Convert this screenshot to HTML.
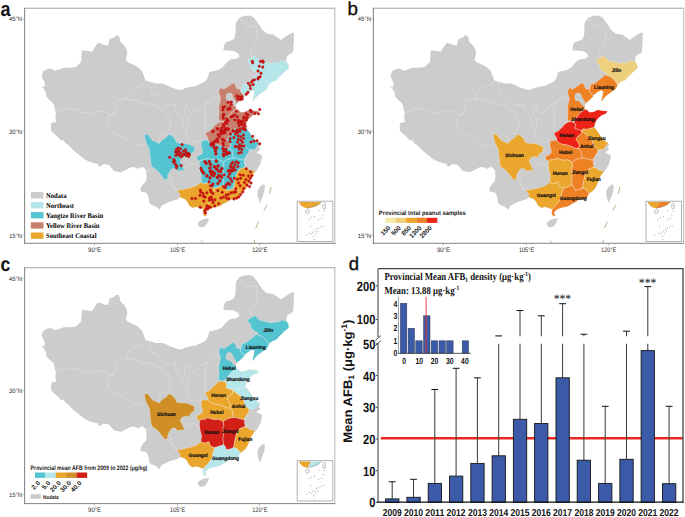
<!DOCTYPE html>
<html><head><meta charset="utf-8"><style>
html,body{margin:0;padding:0;background:#fff;font-family:"Liberation Sans",sans-serif;}
body{width:685px;height:517px;overflow:hidden;position:relative;}
svg{position:absolute;left:0;top:0;}
text{text-rendering:geometricPrecision;}
.ax{font-size:7px;fill:#4d4d4d;}
.pl{font-size:5.6px;font-weight:bold;fill:#111;}
.lg{font-family:"Liberation Serif",serif;font-weight:bold;font-size:7.6px;fill:#111;}
.lt{font-size:6.6px;fill:#222;}
.lk{font-size:6.2px;fill:#222;}
.lk2{font-size:6.2px;fill:#333;}
.pn{font-size:20px;font-weight:bold;fill:#111;}
.tk{font-size:11.2px;font-weight:bold;fill:#111;}
.yr{font-size:9.6px;font-weight:bold;fill:#111;}
.yl{font-size:12.4px;font-weight:bold;fill:#111;}
.it{font-family:"Liberation Serif",serif;font-weight:bold;font-size:8.4px;fill:#111;}
.hk{font-size:7.2px;font-weight:bold;fill:#111;}
.st{font-family:"Liberation Serif",serif;font-size:11px;fill:#222;}
.eb{stroke:#3a3a3a;stroke-width:1.0;}
.ec{stroke:#111;stroke-width:1.0;}
</style></head><body>
<svg width="685" height="517" viewBox="0 0 685 517">
<defs>
<path id="cn" d="M41.6 75.8 L43.1 71.4 L46.8 69.2 L51.1 68.5 L54.8 70.7 L59.9 69.2 L63.5 67.7 L69.4 67.7 L76.0 67.0 L78.9 64.1 L81.1 61.9 L81.8 51.7 L82.5 50.2 L87.6 51.0 L92.0 51.7 L94.2 48.0 L97.9 42.9 L100.8 43.6 L104.4 45.1 L108.1 45.5 L109.6 39.0 L114.0 37.5 L116.2 35.3 L119.1 36.1 L120.5 41.9 L124.9 46.3 L127.1 50.7 L127.1 55.0 L125.7 59.4 L127.8 62.3 L133.0 64.5 L137.3 66.7 L141.7 70.4 L143.2 74.0 L145.4 80.6 L150.5 82.0 L156.3 83.5 L162.2 83.5 L166.5 85.0 L170.9 87.2 L176.8 89.3 L181.1 90.0 L185.5 87.9 L191.4 86.4 L195.0 86.2 L202.7 82.8 L205.0 81.5 L207.6 78.0 L209.4 71.9 L213.8 71.0 L218.1 70.1 L222.5 67.5 L226.0 63.1 L230.4 59.6 L236.5 58.8 L239.6 56.6 L238.3 53.5 L233.9 50.9 L226.0 50.5 L223.4 50.2 L224.1 45.3 L225.7 42.2 L230.3 40.7 L234.1 39.1 L235.6 33.0 L235.6 25.3 L236.4 21.5 L239.5 17.7 L244.0 16.1 L249.4 15.4 L253.2 16.9 L256.3 20.7 L259.4 25.3 L262.4 29.9 L267.0 33.8 L273.2 34.5 L277.8 37.6 L280.8 39.9 L285.4 36.8 L290.0 33.8 L293.9 32.2 L293.9 40.7 L293.1 52.2 L289.3 54.5 L287.0 56.0 L286.2 60.6 L288.5 65.2 L288.5 68.2 L285.4 71.3 L281.6 74.4 L278.5 77.4 L276.2 80.5 L271.6 82.0 L268.8 84.7 L266.8 89.3 L262.9 91.9 L258.3 95.2 L255.0 98.5 L253.0 101.8 L252.4 100.4 L253.7 95.2 L254.4 91.2 L251.7 90.6 L249.1 91.9 L246.5 94.0 L244.3 96.7 L242.0 99.0 L239.6 101.3 L237.3 102.9 L236.2 104.4 L235.8 107.5 L236.5 109.1 L237.6 109.2 L240.9 112.3 L244.9 111.7 L248.8 109.7 L252.8 110.4 L258.7 111.0 L257.4 113.7 L252.8 115.6 L249.5 118.3 L247.5 120.9 L246.2 124.2 L245.5 127.5 L247.5 129.4 L250.0 132.9 L253.2 137.7 L256.5 141.0 L259.7 143.4 L260.0 144.6 L259.6 146.4 L258.3 148.1 L260.5 149.0 L259.2 150.3 L256.5 152.5 L258.3 153.8 L261.8 155.1 L262.2 157.8 L260.9 160.4 L260.9 163.0 L259.6 165.2 L258.3 167.4 L257.4 169.2 L255.6 171.8 L254.6 172.3 L252.2 175.8 L250.5 179.3 L248.7 184.0 L246.4 188.7 L244.1 191.0 L240.6 193.4 L239.4 195.1 L238.2 198.6 L234.7 199.2 L230.0 199.8 L226.0 202.8 L222.8 204.0 L221.0 205.8 L217.5 206.9 L214.0 207.5 L210.5 208.7 L207.6 210.1 L206.4 211.6 L205.3 212.8 L206.1 214.5 L206.7 215.7 L204.7 216.6 L203.2 214.5 L202.6 212.2 L203.5 209.3 L201.2 208.7 L197.7 207.5 L195.9 206.9 L193.0 208.1 L191.1 207.2 L188.7 204.9 L187.0 201.4 L184.6 199.1 L181.7 197.9 L180.0 197.3 L178.2 199.1 L174.7 200.2 L170.0 201.4 L165.4 203.7 L161.3 206.1 L159.5 210.1 L158.4 208.4 L154.9 206.1 L151.4 204.9 L149.0 202.6 L149.0 199.1 L147.9 195.5 L146.1 192.6 L142.0 192.0 L140.3 190.3 L140.9 187.4 L143.2 183.9 L146.1 180.9 L146.7 176.9 L146.1 170.4 L143.8 167.5 L141.4 166.9 L138.5 168.7 L133.8 166.9 L130.3 167.5 L125.7 169.9 L121.0 172.2 L114.0 171.0 L109.0 165.0 L104.0 164.0 L99.0 167.0 L98.0 164.0 L90.0 162.0 L84.0 159.0 L78.0 154.0 L74.2 151.1 L71.9 148.7 L68.4 145.2 L65.4 142.9 L63.1 140.0 L60.8 140.5 L57.9 137.0 L54.4 134.1 L51.4 131.2 L50.8 127.7 L51.4 123.0 L53.2 122.4 L56.1 121.9 L55.5 118.4 L55.5 114.9 L56.1 112.5 L54.9 110.2 L54.4 106.1 L53.2 103.2 L49.1 99.7 L46.2 96.2 L46.0 92.6 L43.8 88.9 L41.6 86.7 L44.6 86.7 L44.6 82.3 L43.1 79.4ZM209.0 218.6 L207.4 223.2 L204.2 226.8 L200.2 227.6 L197.7 224.4 L198.4 222.0 L201.2 220.2 L204.6 218.8ZM264.2 184.3 L265.0 186.5 L264.3 191.0 L262.6 196.5 L261.0 200.5 L260.2 203.2 L258.6 199.5 L257.5 195.0 L257.6 191.0 L259.3 187.5 L262.0 185.0Z"/>
<clipPath id="cnclip"><path d="M41.6 75.8 L43.1 71.4 L46.8 69.2 L51.1 68.5 L54.8 70.7 L59.9 69.2 L63.5 67.7 L69.4 67.7 L76.0 67.0 L78.9 64.1 L81.1 61.9 L81.8 51.7 L82.5 50.2 L87.6 51.0 L92.0 51.7 L94.2 48.0 L97.9 42.9 L100.8 43.6 L104.4 45.1 L108.1 45.5 L109.6 39.0 L114.0 37.5 L116.2 35.3 L119.1 36.1 L120.5 41.9 L124.9 46.3 L127.1 50.7 L127.1 55.0 L125.7 59.4 L127.8 62.3 L133.0 64.5 L137.3 66.7 L141.7 70.4 L143.2 74.0 L145.4 80.6 L150.5 82.0 L156.3 83.5 L162.2 83.5 L166.5 85.0 L170.9 87.2 L176.8 89.3 L181.1 90.0 L185.5 87.9 L191.4 86.4 L195.0 86.2 L202.7 82.8 L205.0 81.5 L207.6 78.0 L209.4 71.9 L213.8 71.0 L218.1 70.1 L222.5 67.5 L226.0 63.1 L230.4 59.6 L236.5 58.8 L239.6 56.6 L238.3 53.5 L233.9 50.9 L226.0 50.5 L223.4 50.2 L224.1 45.3 L225.7 42.2 L230.3 40.7 L234.1 39.1 L235.6 33.0 L235.6 25.3 L236.4 21.5 L239.5 17.7 L244.0 16.1 L249.4 15.4 L253.2 16.9 L256.3 20.7 L259.4 25.3 L262.4 29.9 L267.0 33.8 L273.2 34.5 L277.8 37.6 L280.8 39.9 L285.4 36.8 L290.0 33.8 L293.9 32.2 L293.9 40.7 L293.1 52.2 L289.3 54.5 L287.0 56.0 L286.2 60.6 L288.5 65.2 L288.5 68.2 L285.4 71.3 L281.6 74.4 L278.5 77.4 L276.2 80.5 L271.6 82.0 L268.8 84.7 L266.8 89.3 L262.9 91.9 L258.3 95.2 L255.0 98.5 L253.0 101.8 L252.4 100.4 L253.7 95.2 L254.4 91.2 L251.7 90.6 L249.1 91.9 L246.5 94.0 L244.3 96.7 L242.0 99.0 L239.6 101.3 L237.3 102.9 L236.2 104.4 L235.8 107.5 L236.5 109.1 L237.6 109.2 L240.9 112.3 L244.9 111.7 L248.8 109.7 L252.8 110.4 L258.7 111.0 L257.4 113.7 L252.8 115.6 L249.5 118.3 L247.5 120.9 L246.2 124.2 L245.5 127.5 L247.5 129.4 L250.0 132.9 L253.2 137.7 L256.5 141.0 L259.7 143.4 L260.0 144.6 L259.6 146.4 L258.3 148.1 L260.5 149.0 L259.2 150.3 L256.5 152.5 L258.3 153.8 L261.8 155.1 L262.2 157.8 L260.9 160.4 L260.9 163.0 L259.6 165.2 L258.3 167.4 L257.4 169.2 L255.6 171.8 L254.6 172.3 L252.2 175.8 L250.5 179.3 L248.7 184.0 L246.4 188.7 L244.1 191.0 L240.6 193.4 L239.4 195.1 L238.2 198.6 L234.7 199.2 L230.0 199.8 L226.0 202.8 L222.8 204.0 L221.0 205.8 L217.5 206.9 L214.0 207.5 L210.5 208.7 L207.6 210.1 L206.4 211.6 L205.3 212.8 L206.1 214.5 L206.7 215.7 L204.7 216.6 L203.2 214.5 L202.6 212.2 L203.5 209.3 L201.2 208.7 L197.7 207.5 L195.9 206.9 L193.0 208.1 L191.1 207.2 L188.7 204.9 L187.0 201.4 L184.6 199.1 L181.7 197.9 L180.0 197.3 L178.2 199.1 L174.7 200.2 L170.0 201.4 L165.4 203.7 L161.3 206.1 L159.5 210.1 L158.4 208.4 L154.9 206.1 L151.4 204.9 L149.0 202.6 L149.0 199.1 L147.9 195.5 L146.1 192.6 L142.0 192.0 L140.3 190.3 L140.9 187.4 L143.2 183.9 L146.1 180.9 L146.7 176.9 L146.1 170.4 L143.8 167.5 L141.4 166.9 L138.5 168.7 L133.8 166.9 L130.3 167.5 L125.7 169.9 L121.0 172.2 L114.0 171.0 L109.0 165.0 L104.0 164.0 L99.0 167.0 L98.0 164.0 L90.0 162.0 L84.0 159.0 L78.0 154.0 L74.2 151.1 L71.9 148.7 L68.4 145.2 L65.4 142.9 L63.1 140.0 L60.8 140.5 L57.9 137.0 L54.4 134.1 L51.4 131.2 L50.8 127.7 L51.4 123.0 L53.2 122.4 L56.1 121.9 L55.5 118.4 L55.5 114.9 L56.1 112.5 L54.9 110.2 L54.4 106.1 L53.2 103.2 L49.1 99.7 L46.2 96.2 L46.0 92.6 L43.8 88.9 L41.6 86.7 L44.6 86.7 L44.6 82.3 L43.1 79.4ZM209.0 218.6 L207.4 223.2 L204.2 226.8 L200.2 227.6 L197.7 224.4 L198.4 222.0 L201.2 220.2 L204.6 218.8ZM264.2 184.3 L265.0 186.5 L264.3 191.0 L262.6 196.5 L261.0 200.5 L260.2 203.2 L258.6 199.5 L257.5 195.0 L257.6 191.0 L259.3 187.5 L262.0 185.0Z"/></clipPath>
<path id="p_jilin" d="M247.8 60.5 L250.4 58.5 L254.8 56.0 L257.5 58.5 L259.4 60.4 L262.5 61.5 L265.5 62.0 L268.5 62.8 L271.6 63.4 L274.5 62.5 L277.8 62.8 L280.0 61.8 L282.4 60.6 L285.0 61.5 L287.0 62.1 L288.8 64.5 L290.0 68.0 L287.9 69.6 L284.6 71.5 L282.6 74.2 L278.7 79.4 L275.4 80.7 L272.1 82.0 L268.8 84.7 L266.2 80.7 L263.6 78.1 L261.6 76.8 L258.3 75.5 L257.6 72.9 L254.4 71.5 L251.1 68.3 L250.4 64.3 L247.8 62.3Z"/><path id="p_liaoning" d="M256.3 74.8 L258.3 75.5 L261.6 76.8 L263.6 78.1 L266.2 80.7 L268.8 84.7 L271.0 86.0 L266.8 89.3 L262.9 91.9 L258.3 95.2 L255.0 98.5 L253.0 101.8 L252.4 100.4 L253.7 95.2 L254.4 91.2 L251.7 90.6 L249.1 91.9 L246.5 94.0 L244.0 95.5 L240.4 91.3 L241.6 85.8 L242.7 83.9 L245.8 83.4 L249.1 80.7 L253.0 78.1Z"/><path id="p_hebei" d="M218.7 91.6 L220.3 88.5 L221.4 87.0 L222.6 89.3 L225.7 88.2 L228.0 86.6 L230.3 85.1 L231.9 83.5 L233.8 83.1 L235.4 85.1 L236.5 88.2 L238.1 89.3 L240.4 88.9 L241.2 84.7 L242.7 83.9 L241.6 85.8 L240.4 91.3 L244.0 95.5 L244.3 96.7 L242.0 99.0 L239.6 101.3 L237.3 102.9 L236.2 104.4 L235.8 107.5 L236.5 109.1 L237.6 109.2 L235.7 109.7 L231.1 113.0 L229.1 115.6 L225.8 120.2 L222.5 121.5 L218.6 120.2 L219.1 112.2 L218.7 107.5 L219.9 102.1 L220.7 98.2 L219.5 95.1Z"/><path id="p_bjtj" d="M226.5 93.6 L230.0 92.4 L232.3 94.0 L233.4 97.4 L235.4 100.5 L236.8 102.9 L236.2 104.4 L235.8 106.7 L233.8 106.0 L231.9 102.9 L229.6 101.3 L226.5 100.5 L225.7 97.4Z"/><path id="p_shandong" d="M225.2 122.9 L225.8 120.2 L229.1 115.6 L231.1 113.0 L235.7 109.7 L237.6 109.2 L240.9 112.3 L244.9 111.7 L248.8 109.7 L252.8 110.4 L258.7 111.0 L257.4 113.7 L252.8 115.6 L249.5 118.3 L247.5 120.9 L246.2 124.2 L245.5 127.5 L242.2 128.1 L238.3 129.4 L234.4 128.8 L232.9 130.4 L229.1 129.4 L225.8 128.1 L227.1 124.2Z"/><path id="p_henan" d="M216.0 124.2 L219.3 122.2 L222.5 121.5 L225.2 122.9 L227.1 124.8 L225.8 128.1 L229.1 129.4 L232.9 130.4 L232.4 133.9 L229.3 136.2 L227.2 139.3 L229.3 142.4 L230.9 145.5 L229.3 148.6 L226.2 148.2 L222.4 146.3 L218.5 145.1 L213.9 144.3 L210.8 143.2 L208.4 141.2 L207.7 137.7 L205.7 134.6 L205.3 133.1 L209.2 131.2 L212.7 128.1Z"/><path id="p_jiangsu" d="M232.9 130.4 L234.4 128.8 L238.3 129.4 L242.2 128.1 L245.5 127.5 L247.5 129.4 L250.0 132.9 L253.2 137.7 L256.5 141.0 L259.7 143.4 L260.0 144.6 L257.3 145.1 L256.1 147.9 L254.1 149.5 L251.6 149.5 L249.2 149.9 L247.6 148.3 L245.1 145.9 L244.3 143.4 L243.5 140.2 L241.9 137.7 L238.6 135.3 L235.4 132.9Z"/><path id="p_anhui" d="M232.9 130.4 L235.4 132.9 L238.6 135.3 L241.9 137.7 L243.5 140.2 L244.3 143.4 L245.1 145.9 L247.6 148.3 L249.2 149.9 L248.8 152.4 L246.7 155.6 L245.1 158.1 L243.5 160.1 L241.9 159.7 L238.6 158.9 L236.2 158.1 L233.7 158.1 L232.5 154.8 L232.1 150.7 L230.5 149.1 L229.3 148.6 L230.9 145.5 L229.3 142.4 L227.2 139.3 L229.3 136.2 L232.4 133.9Z"/><path id="p_hubei" d="M201.5 140.4 L204.6 140.8 L206.9 140.1 L208.4 141.2 L210.8 143.2 L213.9 144.3 L218.5 145.1 L222.4 146.3 L226.2 148.2 L229.3 148.6 L230.5 149.1 L232.1 150.7 L232.5 154.8 L233.7 158.1 L230.5 158.4 L227.0 159.6 L224.7 161.0 L223.2 162.5 L221.6 161.0 L218.5 159.8 L215.4 160.2 L211.5 159.4 L207.7 158.3 L204.6 159.8 L201.5 159.8 L199.9 161.0 L197.6 160.2 L196.4 157.1 L198.8 155.5 L201.5 154.0 L202.6 152.4 L202.3 149.3 L201.1 145.5 L201.5 142.4Z"/><path id="p_hunan" d="M199.9 161.0 L201.5 159.8 L204.6 159.8 L207.7 158.3 L211.5 159.4 L215.4 160.2 L218.5 159.8 L221.6 161.0 L223.2 162.5 L223.9 166.4 L222.8 167.7 L223.6 175.0 L222.8 179.4 L223.6 185.3 L219.2 186.7 L214.8 188.2 L210.4 186.7 L209.0 182.3 L204.6 183.8 L200.9 182.3 L201.7 176.5 L200.2 170.7 L199.5 164.8Z"/><path id="p_jiangxi" d="M223.2 162.5 L224.7 161.0 L227.0 159.6 L230.5 158.4 L233.7 158.1 L236.2 158.1 L238.6 158.9 L241.9 159.7 L243.5 160.1 L245.1 161.3 L244.3 162.1 L245.1 166.2 L244.0 167.5 L239.6 169.2 L236.7 173.6 L235.2 179.4 L233.8 186.7 L232.3 188.9 L226.5 190.4 L225.0 186.7 L223.6 185.3 L222.8 179.4 L223.6 175.0 L222.8 167.7 L223.9 166.4Z"/><path id="p_fujian" d="M244.0 167.5 L246.9 167.8 L249.5 170.0 L253.9 170.9 L255.6 171.8 L254.6 172.3 L252.2 175.8 L250.5 179.3 L248.7 184.0 L246.4 188.7 L244.1 191.0 L240.6 193.4 L238.9 191.8 L237.4 189.6 L233.8 188.2 L233.8 186.7 L235.2 179.4 L236.7 173.6 L239.6 169.2Z"/><path id="p_guangdong" d="M214.8 188.2 L219.2 186.7 L223.6 185.3 L225.0 186.7 L226.5 190.4 L232.3 188.9 L233.8 188.2 L237.4 189.6 L238.9 191.8 L240.6 193.4 L239.4 195.1 L238.2 198.6 L234.7 199.2 L230.0 199.8 L226.0 202.8 L222.8 204.0 L221.0 205.8 L217.5 206.9 L214.0 207.5 L210.5 208.7 L207.6 210.1 L206.4 211.6 L205.3 212.8 L206.1 214.5 L206.7 215.7 L204.7 216.6 L203.2 214.5 L202.6 212.2 L203.5 209.3 L204.7 207.5 L207.0 205.2 L209.4 202.3 L211.1 199.9 L212.3 197.0 L212.9 193.5 L214.0 190.0Z"/><path id="p_guangxi" d="M176.8 190.4 L182.7 189.6 L188.5 188.2 L193.6 186.7 L197.3 185.3 L200.9 182.3 L204.6 183.8 L209.0 182.3 L210.4 186.7 L214.8 188.2 L214.0 190.0 L212.9 193.5 L212.3 197.0 L211.1 199.9 L209.4 202.3 L207.0 205.2 L204.7 207.5 L203.5 209.3 L201.2 208.7 L197.7 207.5 L195.9 206.9 L193.0 208.1 L191.1 207.2 L188.7 204.9 L187.0 201.4 L184.6 199.1 L181.7 197.9 L180.0 197.3 L179.8 194.0Z"/><path id="p_sichuan" d="M144.4 134.6 L148.0 134.6 L150.2 137.5 L152.4 140.4 L156.0 141.9 L159.0 143.4 L162.6 139.7 L166.3 137.5 L168.4 134.6 L171.4 135.3 L175.0 139.0 L176.5 142.6 L180.9 143.4 L185.2 143.4 L189.6 144.8 L194.7 147.0 L194.0 151.4 L191.1 153.6 L188.9 157.2 L185.2 156.5 L181.6 158.0 L180.1 160.9 L182.3 165.3 L184.5 170.4 L180.9 170.4 L177.2 171.1 L175.0 168.2 L171.4 168.9 L169.2 172.6 L167.7 175.5 L167.7 179.1 L164.8 179.9 L161.9 176.2 L159.0 172.6 L156.0 169.6 L151.7 166.7 L150.9 162.3 L150.2 156.5 L149.5 149.2 L146.5 143.4 L145.1 139.0Z"/>
<g id="blines" fill="none" stroke="#fff" stroke-width="0.4" stroke-opacity="0.6"><polyline points="56.7,112.5 62.5,110.2 66.0,107.8 70.7,109.6 75.4,109.0 78.3,110.2 82.4,113.1 87.0,112.5 90.6,113.7 95.2,111.4 103.4,111.4 108.1,113.7 111.0,115.4 113.9,113.7 115.8,112.3"/><polyline points="145.0,81.0 142.8,84.6 137.7,86.1 131.9,89.0 127.5,93.4 127.2,99.2 120.2,99.9 115.1,101.4 114.4,104.3 117.3,108.0 115.8,112.3"/><polyline points="127.2,99.2 134.8,99.9 140.6,102.1 145.0,105.0 145.7,102.8 150.9,104.3 155.2,105.0 158.2,107.2 164.0,110.9 166.9,113.8 169.8,119.6 170.6,125.5 168.4,129.9 165.5,134.2 162.5,132.8"/><polyline points="115.8,112.3 108.5,116.7 107.8,122.6 108.5,128.4 112.9,132.8 120.2,135.7 126.0,138.6 131.1,141.5 135.0,145.8 139.0,145.0 144.3,143.7"/><polyline points="149.4,81.7 150.1,87.5 152.3,93.4 156.7,94.1 158.9,97.7 162.5,102.1 166.9,105.8 170.6,105.0 175.7,104.3 174.9,108.7 177.1,113.8 181.5,118.2 183.0,124.0 184.4,128.4 187.4,129.9 186.0,134.2 187.4,138.6 191.0,141.5 196.0,142.0 201.5,140.4"/><polyline points="187.4,105.0 184.4,108.0 184.4,113.8 187.4,118.2 188.1,128.4"/><polyline points="219.4,95.7 213.0,97.9 208.8,101.6 204.5,103.7 200.2,106.9 197.0,111.2 192.8,112.8 189.0,112.0 187.4,108.0 187.4,105.0"/><polyline points="208.8,101.6 205.5,104.7 205.0,110.0 205.3,117.0 205.6,124.0 205.3,130.0 205.3,133.1"/><polyline points="162.5,132.8 160.0,136.0 159.0,143.4"/><polyline points="151.7,166.7 150.0,170.0 146.1,170.4"/><polyline points="167.7,179.1 170.0,183.0 174.0,186.0 176.8,190.4"/><polyline points="237.1,18.7 243.2,21.3 246.7,27.4 252.8,26.5 256.6,25.7 257.1,32.6 256.6,41.3 254.5,46.6 251.0,50.9 250.2,55.3 252.5,56.8"/><polyline points="246.9,167.8 246.0,165.6 244.3,161.7 246.5,156.9 248.6,152.1 251.3,149.4"/><polyline points="184.1,167.1 189.9,164.2 193.8,163.7 197.6,165.2 199.6,169.0"/><polyline points="168.9,174.4 170.4,176.8 172.3,180.7 171.4,185.5 174.3,190.0 176.8,190.4"/><use href="#p_jilin"/><use href="#p_liaoning"/><use href="#p_hebei"/><use href="#p_shandong"/><use href="#p_henan"/><use href="#p_jiangsu"/><use href="#p_anhui"/><use href="#p_hubei"/><use href="#p_hunan"/><use href="#p_jiangxi"/><use href="#p_fujian"/><use href="#p_guangdong"/><use href="#p_guangxi"/><use href="#p_sichuan"/></g>
<g id="dots" fill="#d41111" stroke="#9c0a0a" stroke-width="0.3"><path d="M251.9 62.3l0.4 1.5l0.4 -1.5z" fill="#e07070" stroke="none"/><path d="M252.3 63.6l0.4 1.5l0.4 -1.5z" fill="#e07070" stroke="none"/><path d="M260.2 62.3l0.4 1.5l0.4 -1.5z" fill="#e07070" stroke="none"/><path d="M262.4 61.9l0.4 1.5l0.4 -1.5z" fill="#e07070" stroke="none"/><path d="M262.8 63.2l0.4 1.5l0.4 -1.5z" fill="#e07070" stroke="none"/><path d="M258.9 67.1l0.4 1.5l0.4 -1.5z" fill="#e07070" stroke="none"/><path d="M262.4 68.0l0.4 1.5l0.4 -1.5z" fill="#e07070" stroke="none"/><path d="M257.6 71.9l0.4 1.5l0.4 -1.5z" fill="#e07070" stroke="none"/><path d="M260.6 74.1l0.4 1.5l0.4 -1.5z" fill="#e07070" stroke="none"/><path d="M258.0 78.5l0.4 1.5l0.4 -1.5z" fill="#e07070" stroke="none"/><path d="M259.8 77.6l0.4 1.5l0.4 -1.5z" fill="#e07070" stroke="none"/><path d="M257.6 79.8l0.4 1.5l0.4 -1.5z" fill="#e07070" stroke="none"/><path d="M254.1 80.7l0.4 1.5l0.4 -1.5z" fill="#e07070" stroke="none"/><path d="M252.3 81.5l0.4 1.5l0.4 -1.5z" fill="#e07070" stroke="none"/><path d="M251.0 82.9l0.4 1.5l0.4 -1.5z" fill="#e07070" stroke="none"/><path d="M247.9 84.2l0.4 1.5l0.4 -1.5z" fill="#e07070" stroke="none"/><path d="M249.7 86.4l0.4 1.5l0.4 -1.5z" fill="#e07070" stroke="none"/><path d="M252.8 85.5l0.4 1.5l0.4 -1.5z" fill="#e07070" stroke="none"/><path d="M250.1 89.4l0.4 1.5l0.4 -1.5z" fill="#e07070" stroke="none"/><path d="M247.5 93.3l0.4 1.5l0.4 -1.5z" fill="#e07070" stroke="none"/><path d="M245.8 95.1l0.4 1.5l0.4 -1.5z" fill="#e07070" stroke="none"/><path d="M236.6 96.8l0.4 1.5l0.4 -1.5z" fill="#e07070" stroke="none"/><path d="M239.2 97.7l0.4 1.5l0.4 -1.5z" fill="#e07070" stroke="none"/><path d="M241.4 97.7l0.4 1.5l0.4 -1.5z" fill="#e07070" stroke="none"/><path d="M237.4 99.8l0.4 1.5l0.4 -1.5z" fill="#e07070" stroke="none"/><path d="M240.1 100.3l0.4 1.5l0.4 -1.5z" fill="#e07070" stroke="none"/><path d="M241.8 99.8l0.4 1.5l0.4 -1.5z" fill="#e07070" stroke="none"/><path d="M227.8 103.3l0.4 1.5l0.4 -1.5z" fill="#e07070" stroke="none"/><path d="M230.9 102.9l0.4 1.5l0.4 -1.5z" fill="#e07070" stroke="none"/><path d="M230.9 105.5l0.4 1.5l0.4 -1.5z" fill="#e07070" stroke="none"/><path d="M222.6 108.2l0.4 1.5l0.4 -1.5z" fill="#e07070" stroke="none"/><path d="M224.3 107.7l0.4 1.5l0.4 -1.5z" fill="#e07070" stroke="none"/><path d="M222.6 110.8l0.4 1.5l0.4 -1.5z" fill="#e07070" stroke="none"/><path d="M227.4 110.4l0.4 1.5l0.4 -1.5z" fill="#e07070" stroke="none"/><path d="M229.1 108.6l0.4 1.5l0.4 -1.5z" fill="#e07070" stroke="none"/><path d="M229.6 109.9l0.4 1.5l0.4 -1.5z" fill="#e07070" stroke="none"/><path d="M223.4 115.2l0.4 1.5l0.4 -1.5z" fill="#e07070" stroke="none"/><path d="M222.6 116.9l0.4 1.5l0.4 -1.5z" fill="#e07070" stroke="none"/><path d="M223.0 119.1l0.4 1.5l0.4 -1.5z" fill="#e07070" stroke="none"/><path d="M230.9 117.8l0.4 1.5l0.4 -1.5z" fill="#e07070" stroke="none"/><path d="M232.6 116.9l0.4 1.5l0.4 -1.5z" fill="#e07070" stroke="none"/><path d="M234.4 116.0l0.4 1.5l0.4 -1.5z" fill="#e07070" stroke="none"/><path d="M236.1 112.1l0.4 1.5l0.4 -1.5z" fill="#e07070" stroke="none"/><path d="M250.1 111.2l0.4 1.5l0.4 -1.5z" fill="#e07070" stroke="none"/><path d="M251.0 112.5l0.4 1.5l0.4 -1.5z" fill="#e07070" stroke="none"/><path d="M254.5 114.3l0.4 1.5l0.4 -1.5z" fill="#e07070" stroke="none"/><path d="M258.0 114.7l0.4 1.5l0.4 -1.5z" fill="#e07070" stroke="none"/><path d="M259.3 110.4l0.4 1.5l0.4 -1.5z" fill="#e07070" stroke="none"/><path d="M245.8 114.7l0.4 1.5l0.4 -1.5z" fill="#e07070" stroke="none"/><path d="M247.5 116.0l0.4 1.5l0.4 -1.5z" fill="#e07070" stroke="none"/><path d="M244.0 117.8l0.4 1.5l0.4 -1.5z" fill="#e07070" stroke="none"/><path d="M246.6 118.7l0.4 1.5l0.4 -1.5z" fill="#e07070" stroke="none"/><path d="M243.1 119.1l0.4 1.5l0.4 -1.5z" fill="#e07070" stroke="none"/><path d="M245.8 120.9l0.4 1.5l0.4 -1.5z" fill="#e07070" stroke="none"/><path d="M237.0 117.8l0.4 1.5l0.4 -1.5z" fill="#e07070" stroke="none"/><path d="M237.9 121.3l0.4 1.5l0.4 -1.5z" fill="#e07070" stroke="none"/><path d="M239.6 122.2l0.4 1.5l0.4 -1.5z" fill="#e07070" stroke="none"/><path d="M241.4 122.6l0.4 1.5l0.4 -1.5z" fill="#e07070" stroke="none"/><path d="M243.1 122.2l0.4 1.5l0.4 -1.5z" fill="#e07070" stroke="none"/><path d="M237.9 123.9l0.4 1.5l0.4 -1.5z" fill="#e07070" stroke="none"/><path d="M240.5 124.8l0.4 1.5l0.4 -1.5z" fill="#e07070" stroke="none"/><path d="M242.3 125.7l0.4 1.5l0.4 -1.5z" fill="#e07070" stroke="none"/><path d="M244.0 125.2l0.4 1.5l0.4 -1.5z" fill="#e07070" stroke="none"/><path d="M238.7 126.6l0.4 1.5l0.4 -1.5z" fill="#e07070" stroke="none"/><path d="M244.9 127.4l0.4 1.5l0.4 -1.5z" fill="#e07070" stroke="none"/><path d="M242.3 129.2l0.4 1.5l0.4 -1.5z" fill="#e07070" stroke="none"/><path d="M239.6 130.1l0.4 1.5l0.4 -1.5z" fill="#e07070" stroke="none"/><path d="M237.0 130.9l0.4 1.5l0.4 -1.5z" fill="#e07070" stroke="none"/><path d="M234.4 120.9l0.4 1.5l0.4 -1.5z" fill="#e07070" stroke="none"/><path d="M244.0 130.1l0.4 1.5l0.4 -1.5z" fill="#e07070" stroke="none"/><path d="M226.5 120.0l0.4 1.5l0.4 -1.5z" fill="#e07070" stroke="none"/><path d="M225.6 122.2l0.4 1.5l0.4 -1.5z" fill="#e07070" stroke="none"/><path d="M227.8 121.7l0.4 1.5l0.4 -1.5z" fill="#e07070" stroke="none"/><path d="M224.7 123.9l0.4 1.5l0.4 -1.5z" fill="#e07070" stroke="none"/><path d="M226.5 124.4l0.4 1.5l0.4 -1.5z" fill="#e07070" stroke="none"/><path d="M223.0 125.7l0.4 1.5l0.4 -1.5z" fill="#e07070" stroke="none"/><path d="M223.9 127.4l0.4 1.5l0.4 -1.5z" fill="#e07070" stroke="none"/><path d="M221.7 128.7l0.4 1.5l0.4 -1.5z" fill="#e07070" stroke="none"/><path d="M226.5 129.2l0.4 1.5l0.4 -1.5z" fill="#e07070" stroke="none"/><path d="M224.7 130.1l0.4 1.5l0.4 -1.5z" fill="#e07070" stroke="none"/><path d="M228.2 130.1l0.4 1.5l0.4 -1.5z" fill="#e07070" stroke="none"/><path d="M216.9 129.6l0.4 1.5l0.4 -1.5z" fill="#e07070" stroke="none"/><path d="M212.5 132.2l0.4 1.5l0.4 -1.5z" fill="#e07070" stroke="none"/><path d="M220.4 132.7l0.4 1.5l0.4 -1.5z" fill="#e07070" stroke="none"/><path d="M223.0 132.7l0.4 1.5l0.4 -1.5z" fill="#e07070" stroke="none"/><path d="M232.6 131.8l0.4 1.5l0.4 -1.5z" fill="#e07070" stroke="none"/><path d="M235.2 132.2l0.4 1.5l0.4 -1.5z" fill="#e07070" stroke="none"/><path d="M212.9 132.4l0.4 1.5l0.4 -1.5z" fill="#e07070" stroke="none"/><path d="M216.9 129.8l0.4 1.5l0.4 -1.5z" fill="#e07070" stroke="none"/><path d="M220.4 130.7l0.4 1.5l0.4 -1.5z" fill="#e07070" stroke="none"/><path d="M222.1 132.4l0.4 1.5l0.4 -1.5z" fill="#e07070" stroke="none"/><path d="M223.9 131.5l0.4 1.5l0.4 -1.5z" fill="#e07070" stroke="none"/><path d="M225.6 130.7l0.4 1.5l0.4 -1.5z" fill="#e07070" stroke="none"/><path d="M227.4 130.2l0.4 1.5l0.4 -1.5z" fill="#e07070" stroke="none"/><path d="M217.7 135.5l0.4 1.5l0.4 -1.5z" fill="#e07070" stroke="none"/><path d="M220.4 135.0l0.4 1.5l0.4 -1.5z" fill="#e07070" stroke="none"/><path d="M222.6 134.2l0.4 1.5l0.4 -1.5z" fill="#e07070" stroke="none"/><path d="M224.7 133.7l0.4 1.5l0.4 -1.5z" fill="#e07070" stroke="none"/><path d="M219.0 137.7l0.4 1.5l0.4 -1.5z" fill="#e07070" stroke="none"/><path d="M216.9 139.8l0.4 1.5l0.4 -1.5z" fill="#e07070" stroke="none"/><path d="M215.1 141.6l0.4 1.5l0.4 -1.5z" fill="#e07070" stroke="none"/><path d="M217.3 142.5l0.4 1.5l0.4 -1.5z" fill="#e07070" stroke="none"/><path d="M222.1 140.3l0.4 1.5l0.4 -1.5z" fill="#e07070" stroke="none"/><path d="M223.9 141.6l0.4 1.5l0.4 -1.5z" fill="#e07070" stroke="none"/><path d="M222.6 144.2l0.4 1.5l0.4 -1.5z" fill="#e07070" stroke="none"/><path d="M223.0 146.4l0.4 1.5l0.4 -1.5z" fill="#e07070" stroke="none"/><path d="M211.6 144.7l0.4 1.5l0.4 -1.5z" fill="#e07070" stroke="none"/><path d="M213.4 145.5l0.4 1.5l0.4 -1.5z" fill="#e07070" stroke="none"/><path d="M210.7 146.0l0.4 1.5l0.4 -1.5z" fill="#e07070" stroke="none"/><path d="M230.0 135.0l0.4 1.5l0.4 -1.5z" fill="#e07070" stroke="none"/><path d="M232.6 132.0l0.4 1.5l0.4 -1.5z" fill="#e07070" stroke="none"/><path d="M213.8 148.6l0.4 1.5l0.4 -1.5z" fill="#e07070" stroke="none"/><path d="M216.0 149.0l0.4 1.5l0.4 -1.5z" fill="#e07070" stroke="none"/><path d="M215.1 151.7l0.4 1.5l0.4 -1.5z" fill="#e07070" stroke="none"/><path d="M215.5 154.7l0.4 1.5l0.4 -1.5z" fill="#e07070" stroke="none"/><path d="M223.0 149.9l0.4 1.5l0.4 -1.5z" fill="#e07070" stroke="none"/><path d="M225.6 149.9l0.4 1.5l0.4 -1.5z" fill="#e07070" stroke="none"/><path d="M223.4 152.1l0.4 1.5l0.4 -1.5z" fill="#e07070" stroke="none"/><path d="M225.6 152.5l0.4 1.5l0.4 -1.5z" fill="#e07070" stroke="none"/><path d="M227.4 153.4l0.4 1.5l0.4 -1.5z" fill="#e07070" stroke="none"/><path d="M229.1 153.9l0.4 1.5l0.4 -1.5z" fill="#e07070" stroke="none"/><path d="M223.9 155.2l0.4 1.5l0.4 -1.5z" fill="#e07070" stroke="none"/><path d="M223.4 156.9l0.4 1.5l0.4 -1.5z" fill="#e07070" stroke="none"/><path d="M226.5 155.2l0.4 1.5l0.4 -1.5z" fill="#e07070" stroke="none"/><path d="M211.0 144.2l0.4 1.5l0.4 -1.5z" fill="#e07070" stroke="none"/><path d="M213.6 143.3l0.4 1.5l0.4 -1.5z" fill="#e07070" stroke="none"/><path d="M211.0 145.9l0.4 1.5l0.4 -1.5z" fill="#e07070" stroke="none"/><path d="M213.6 148.5l0.4 1.5l0.4 -1.5z" fill="#e07070" stroke="none"/><path d="M216.3 148.5l0.4 1.5l0.4 -1.5z" fill="#e07070" stroke="none"/><path d="M215.0 151.6l0.4 1.5l0.4 -1.5z" fill="#e07070" stroke="none"/><path d="M215.4 154.7l0.4 1.5l0.4 -1.5z" fill="#e07070" stroke="none"/><path d="M222.4 149.4l0.4 1.5l0.4 -1.5z" fill="#e07070" stroke="none"/><path d="M222.8 155.1l0.4 1.5l0.4 -1.5z" fill="#e07070" stroke="none"/><path d="M233.5 138.5l0.4 1.5l0.4 -1.5z" fill="#e07070" stroke="none"/><path d="M229.6 139.4l0.4 1.5l0.4 -1.5z" fill="#e07070" stroke="none"/><path d="M229.6 142.5l0.4 1.5l0.4 -1.5z" fill="#e07070" stroke="none"/><path d="M235.2 135.0l0.4 1.5l0.4 -1.5z" fill="#e07070" stroke="none"/><path d="M237.0 133.3l0.4 1.5l0.4 -1.5z" fill="#e07070" stroke="none"/><path d="M239.6 132.4l0.4 1.5l0.4 -1.5z" fill="#e07070" stroke="none"/><path d="M237.9 136.8l0.4 1.5l0.4 -1.5z" fill="#e07070" stroke="none"/><path d="M240.5 137.7l0.4 1.5l0.4 -1.5z" fill="#e07070" stroke="none"/><path d="M243.1 135.9l0.4 1.5l0.4 -1.5z" fill="#e07070" stroke="none"/><path d="M237.9 140.3l0.4 1.5l0.4 -1.5z" fill="#e07070" stroke="none"/><path d="M240.5 141.2l0.4 1.5l0.4 -1.5z" fill="#e07070" stroke="none"/><path d="M243.1 139.4l0.4 1.5l0.4 -1.5z" fill="#e07070" stroke="none"/><path d="M237.0 142.9l0.4 1.5l0.4 -1.5z" fill="#e07070" stroke="none"/><path d="M242.3 143.3l0.4 1.5l0.4 -1.5z" fill="#e07070" stroke="none"/><path d="M234.8 147.3l0.4 1.5l0.4 -1.5z" fill="#e07070" stroke="none"/><path d="M237.0 147.7l0.4 1.5l0.4 -1.5z" fill="#e07070" stroke="none"/><path d="M239.6 147.3l0.4 1.5l0.4 -1.5z" fill="#e07070" stroke="none"/><path d="M241.4 146.9l0.4 1.5l0.4 -1.5z" fill="#e07070" stroke="none"/><path d="M243.6 146.9l0.4 1.5l0.4 -1.5z" fill="#e07070" stroke="none"/><path d="M238.7 149.9l0.4 1.5l0.4 -1.5z" fill="#e07070" stroke="none"/><path d="M241.4 150.4l0.4 1.5l0.4 -1.5z" fill="#e07070" stroke="none"/><path d="M238.3 153.9l0.4 1.5l0.4 -1.5z" fill="#e07070" stroke="none"/><path d="M240.9 153.4l0.4 1.5l0.4 -1.5z" fill="#e07070" stroke="none"/><path d="M239.2 145.5l0.4 1.5l0.4 -1.5z" fill="#e07070" stroke="none"/><path d="M243.1 129.8l0.4 1.5l0.4 -1.5z" fill="#e07070" stroke="none"/><path d="M244.9 130.7l0.4 1.5l0.4 -1.5z" fill="#e07070" stroke="none"/><path d="M252.3 137.2l0.4 1.5l0.4 -1.5z" fill="#e07070" stroke="none"/><path d="M250.6 142.9l0.4 1.5l0.4 -1.5z" fill="#e07070" stroke="none"/><path d="M253.6 142.0l0.4 1.5l0.4 -1.5z" fill="#e07070" stroke="none"/><path d="M256.7 141.6l0.4 1.5l0.4 -1.5z" fill="#e07070" stroke="none"/><path d="M259.3 144.7l0.4 1.5l0.4 -1.5z" fill="#e07070" stroke="none"/><path d="M209.0 162.6l0.4 1.5l0.4 -1.5z" fill="#e07070" stroke="none"/><path d="M209.9 165.2l0.4 1.5l0.4 -1.5z" fill="#e07070" stroke="none"/><path d="M205.5 163.9l0.4 1.5l0.4 -1.5z" fill="#e07070" stroke="none"/><path d="M213.8 167.4l0.4 1.5l0.4 -1.5z" fill="#e07070" stroke="none"/><path d="M216.0 162.2l0.4 1.5l0.4 -1.5z" fill="#e07070" stroke="none"/><path d="M217.7 166.6l0.4 1.5l0.4 -1.5z" fill="#e07070" stroke="none"/><path d="M221.2 169.6l0.4 1.5l0.4 -1.5z" fill="#e07070" stroke="none"/><path d="M216.0 170.1l0.4 1.5l0.4 -1.5z" fill="#e07070" stroke="none"/><path d="M209.9 168.7l0.4 1.5l0.4 -1.5z" fill="#e07070" stroke="none"/><path d="M218.6 171.8l0.4 1.5l0.4 -1.5z" fill="#e07070" stroke="none"/><path d="M211.2 172.2l0.4 1.5l0.4 -1.5z" fill="#e07070" stroke="none"/><path d="M230.9 164.8l0.4 1.5l0.4 -1.5z" fill="#e07070" stroke="none"/><path d="M232.6 163.1l0.4 1.5l0.4 -1.5z" fill="#e07070" stroke="none"/><path d="M234.4 165.7l0.4 1.5l0.4 -1.5z" fill="#e07070" stroke="none"/><path d="M230.0 167.4l0.4 1.5l0.4 -1.5z" fill="#e07070" stroke="none"/><path d="M231.7 168.7l0.4 1.5l0.4 -1.5z" fill="#e07070" stroke="none"/><path d="M233.5 168.3l0.4 1.5l0.4 -1.5z" fill="#e07070" stroke="none"/><path d="M236.1 162.6l0.4 1.5l0.4 -1.5z" fill="#e07070" stroke="none"/><path d="M237.9 163.9l0.4 1.5l0.4 -1.5z" fill="#e07070" stroke="none"/><path d="M237.4 167.4l0.4 1.5l0.4 -1.5z" fill="#e07070" stroke="none"/><path d="M229.1 170.9l0.4 1.5l0.4 -1.5z" fill="#e07070" stroke="none"/><path d="M230.9 171.8l0.4 1.5l0.4 -1.5z" fill="#e07070" stroke="none"/><path d="M232.6 171.4l0.4 1.5l0.4 -1.5z" fill="#e07070" stroke="none"/><path d="M234.8 170.9l0.4 1.5l0.4 -1.5z" fill="#e07070" stroke="none"/><path d="M227.8 171.8l0.4 1.5l0.4 -1.5z" fill="#e07070" stroke="none"/><path d="M245.8 169.6l0.4 1.5l0.4 -1.5z" fill="#e07070" stroke="none"/><path d="M250.1 172.7l0.4 1.5l0.4 -1.5z" fill="#e07070" stroke="none"/><path d="M181.7 145.5l0.4 1.5l0.4 -1.5z" fill="#e07070" stroke="none"/><path d="M176.0 150.3l0.4 1.5l0.4 -1.5z" fill="#e07070" stroke="none"/><path d="M177.7 149.0l0.4 1.5l0.4 -1.5z" fill="#e07070" stroke="none"/><path d="M179.9 149.8l0.4 1.5l0.4 -1.5z" fill="#e07070" stroke="none"/><path d="M175.1 152.9l0.4 1.5l0.4 -1.5z" fill="#e07070" stroke="none"/><path d="M177.3 152.0l0.4 1.5l0.4 -1.5z" fill="#e07070" stroke="none"/><path d="M179.0 152.9l0.4 1.5l0.4 -1.5z" fill="#e07070" stroke="none"/><path d="M176.9 154.7l0.4 1.5l0.4 -1.5z" fill="#e07070" stroke="none"/><path d="M178.6 156.0l0.4 1.5l0.4 -1.5z" fill="#e07070" stroke="none"/><path d="M180.4 154.2l0.4 1.5l0.4 -1.5z" fill="#e07070" stroke="none"/><path d="M180.8 157.7l0.4 1.5l0.4 -1.5z" fill="#e07070" stroke="none"/><path d="M183.0 152.0l0.4 1.5l0.4 -1.5z" fill="#e07070" stroke="none"/><path d="M185.2 150.7l0.4 1.5l0.4 -1.5z" fill="#e07070" stroke="none"/><path d="M185.6 153.3l0.4 1.5l0.4 -1.5z" fill="#e07070" stroke="none"/><path d="M183.4 155.1l0.4 1.5l0.4 -1.5z" fill="#e07070" stroke="none"/><path d="M185.6 156.4l0.4 1.5l0.4 -1.5z" fill="#e07070" stroke="none"/><path d="M187.8 154.2l0.4 1.5l0.4 -1.5z" fill="#e07070" stroke="none"/><path d="M189.1 155.5l0.4 1.5l0.4 -1.5z" fill="#e07070" stroke="none"/><path d="M188.2 157.3l0.4 1.5l0.4 -1.5z" fill="#e07070" stroke="none"/><path d="M186.9 156.0l0.4 1.5l0.4 -1.5z" fill="#e07070" stroke="none"/><path d="M182.1 156.4l0.4 1.5l0.4 -1.5z" fill="#e07070" stroke="none"/><path d="M175.5 156.4l0.4 1.5l0.4 -1.5z" fill="#e07070" stroke="none"/><path d="M169.4 158.2l0.4 1.5l0.4 -1.5z" fill="#e07070" stroke="none"/><path d="M173.4 160.4l0.4 1.5l0.4 -1.5z" fill="#e07070" stroke="none"/><path d="M174.2 162.1l0.4 1.5l0.4 -1.5z" fill="#e07070" stroke="none"/><path d="M172.9 163.0l0.4 1.5l0.4 -1.5z" fill="#e07070" stroke="none"/><path d="M175.1 165.2l0.4 1.5l0.4 -1.5z" fill="#e07070" stroke="none"/><path d="M176.4 166.9l0.4 1.5l0.4 -1.5z" fill="#e07070" stroke="none"/><path d="M176.0 168.7l0.4 1.5l0.4 -1.5z" fill="#e07070" stroke="none"/><path d="M180.8 166.5l0.4 1.5l0.4 -1.5z" fill="#e07070" stroke="none"/><path d="M204.4 162.5l0.4 1.5l0.4 -1.5z" fill="#e07070" stroke="none"/><path d="M205.8 164.3l0.4 1.5l0.4 -1.5z" fill="#e07070" stroke="none"/><path d="M208.8 162.5l0.4 1.5l0.4 -1.5z" fill="#e07070" stroke="none"/><path d="M210.1 165.2l0.4 1.5l0.4 -1.5z" fill="#e07070" stroke="none"/><path d="M215.8 161.7l0.4 1.5l0.4 -1.5z" fill="#e07070" stroke="none"/><path d="M217.6 166.9l0.4 1.5l0.4 -1.5z" fill="#e07070" stroke="none"/><path d="M214.1 167.8l0.4 1.5l0.4 -1.5z" fill="#e07070" stroke="none"/><path d="M216.3 169.5l0.4 1.5l0.4 -1.5z" fill="#e07070" stroke="none"/><path d="M209.3 169.1l0.4 1.5l0.4 -1.5z" fill="#e07070" stroke="none"/><path d="M209.7 172.2l0.4 1.5l0.4 -1.5z" fill="#e07070" stroke="none"/><path d="M211.9 172.2l0.4 1.5l0.4 -1.5z" fill="#e07070" stroke="none"/><path d="M213.6 173.9l0.4 1.5l0.4 -1.5z" fill="#e07070" stroke="none"/><path d="M211.0 174.8l0.4 1.5l0.4 -1.5z" fill="#e07070" stroke="none"/><path d="M218.0 172.2l0.4 1.5l0.4 -1.5z" fill="#e07070" stroke="none"/><path d="M220.6 172.6l0.4 1.5l0.4 -1.5z" fill="#e07070" stroke="none"/><path d="M221.5 169.5l0.4 1.5l0.4 -1.5z" fill="#e07070" stroke="none"/><path d="M201.4 171.7l0.4 1.5l0.4 -1.5z" fill="#e07070" stroke="none"/><path d="M203.1 173.9l0.4 1.5l0.4 -1.5z" fill="#e07070" stroke="none"/><path d="M206.6 176.6l0.4 1.5l0.4 -1.5z" fill="#e07070" stroke="none"/><path d="M209.7 178.7l0.4 1.5l0.4 -1.5z" fill="#e07070" stroke="none"/><path d="M213.2 176.6l0.4 1.5l0.4 -1.5z" fill="#e07070" stroke="none"/><path d="M217.1 178.3l0.4 1.5l0.4 -1.5z" fill="#e07070" stroke="none"/><path d="M219.8 176.6l0.4 1.5l0.4 -1.5z" fill="#e07070" stroke="none"/><path d="M219.3 181.8l0.4 1.5l0.4 -1.5z" fill="#e07070" stroke="none"/><path d="M200.5 169.1l0.4 1.5l0.4 -1.5z" fill="#e07070" stroke="none"/><path d="M201.7 171.8l0.4 1.5l0.4 -1.5z" fill="#e07070" stroke="none"/><path d="M203.4 174.0l0.4 1.5l0.4 -1.5z" fill="#e07070" stroke="none"/><path d="M206.5 177.0l0.4 1.5l0.4 -1.5z" fill="#e07070" stroke="none"/><path d="M210.0 172.7l0.4 1.5l0.4 -1.5z" fill="#e07070" stroke="none"/><path d="M210.9 175.3l0.4 1.5l0.4 -1.5z" fill="#e07070" stroke="none"/><path d="M213.5 176.6l0.4 1.5l0.4 -1.5z" fill="#e07070" stroke="none"/><path d="M214.4 174.4l0.4 1.5l0.4 -1.5z" fill="#e07070" stroke="none"/><path d="M209.6 178.8l0.4 1.5l0.4 -1.5z" fill="#e07070" stroke="none"/><path d="M217.0 178.3l0.4 1.5l0.4 -1.5z" fill="#e07070" stroke="none"/><path d="M218.3 176.2l0.4 1.5l0.4 -1.5z" fill="#e07070" stroke="none"/><path d="M220.5 177.0l0.4 1.5l0.4 -1.5z" fill="#e07070" stroke="none"/><path d="M221.4 178.3l0.4 1.5l0.4 -1.5z" fill="#e07070" stroke="none"/><path d="M223.6 175.7l0.4 1.5l0.4 -1.5z" fill="#e07070" stroke="none"/><path d="M219.6 181.8l0.4 1.5l0.4 -1.5z" fill="#e07070" stroke="none"/><path d="M217.4 184.5l0.4 1.5l0.4 -1.5z" fill="#e07070" stroke="none"/><path d="M208.7 182.7l0.4 1.5l0.4 -1.5z" fill="#e07070" stroke="none"/><path d="M212.6 184.9l0.4 1.5l0.4 -1.5z" fill="#e07070" stroke="none"/><path d="M211.7 186.7l0.4 1.5l0.4 -1.5z" fill="#e07070" stroke="none"/><path d="M228.4 171.8l0.4 1.5l0.4 -1.5z" fill="#e07070" stroke="none"/><path d="M231.0 171.8l0.4 1.5l0.4 -1.5z" fill="#e07070" stroke="none"/><path d="M229.3 174.8l0.4 1.5l0.4 -1.5z" fill="#e07070" stroke="none"/><path d="M227.9 177.5l0.4 1.5l0.4 -1.5z" fill="#e07070" stroke="none"/><path d="M230.1 179.7l0.4 1.5l0.4 -1.5z" fill="#e07070" stroke="none"/><path d="M231.4 182.3l0.4 1.5l0.4 -1.5z" fill="#e07070" stroke="none"/><path d="M234.1 179.2l0.4 1.5l0.4 -1.5z" fill="#e07070" stroke="none"/><path d="M227.5 184.0l0.4 1.5l0.4 -1.5z" fill="#e07070" stroke="none"/><path d="M229.3 185.3l0.4 1.5l0.4 -1.5z" fill="#e07070" stroke="none"/><path d="M225.8 185.8l0.4 1.5l0.4 -1.5z" fill="#e07070" stroke="none"/><path d="M223.1 187.5l0.4 1.5l0.4 -1.5z" fill="#e07070" stroke="none"/><path d="M224.9 188.4l0.4 1.5l0.4 -1.5z" fill="#e07070" stroke="none"/><path d="M239.8 175.7l0.4 1.5l0.4 -1.5z" fill="#e07070" stroke="none"/><path d="M242.8 176.2l0.4 1.5l0.4 -1.5z" fill="#e07070" stroke="none"/><path d="M248.1 176.9l0.4 1.5l0.4 -1.5z" fill="#e07070" stroke="none"/><path d="M250.1 178.9l0.4 1.5l0.4 -1.5z" fill="#e07070" stroke="none"/><path d="M251.6 176.4l0.4 1.5l0.4 -1.5z" fill="#e07070" stroke="none"/><path d="M248.6 181.9l0.4 1.5l0.4 -1.5z" fill="#e07070" stroke="none"/><path d="M250.6 183.9l0.4 1.5l0.4 -1.5z" fill="#e07070" stroke="none"/><path d="M246.6 185.9l0.4 1.5l0.4 -1.5z" fill="#e07070" stroke="none"/><path d="M249.1 187.4l0.4 1.5l0.4 -1.5z" fill="#e07070" stroke="none"/><path d="M245.6 180.4l0.4 1.5l0.4 -1.5z" fill="#e07070" stroke="none"/><path d="M244.1 183.4l0.4 1.5l0.4 -1.5z" fill="#e07070" stroke="none"/><path d="M237.1 180.1l0.4 1.5l0.4 -1.5z" fill="#e07070" stroke="none"/><path d="M240.2 179.2l0.4 1.5l0.4 -1.5z" fill="#e07070" stroke="none"/><path d="M238.0 184.0l0.4 1.5l0.4 -1.5z" fill="#e07070" stroke="none"/><path d="M239.8 186.7l0.4 1.5l0.4 -1.5z" fill="#e07070" stroke="none"/><path d="M243.3 189.3l0.4 1.5l0.4 -1.5z" fill="#e07070" stroke="none"/><path d="M235.4 189.7l0.4 1.5l0.4 -1.5z" fill="#e07070" stroke="none"/><path d="M199.9 191.0l0.4 1.5l0.4 -1.5z" fill="#e07070" stroke="none"/><path d="M200.4 192.8l0.4 1.5l0.4 -1.5z" fill="#e07070" stroke="none"/><path d="M202.6 194.5l0.4 1.5l0.4 -1.5z" fill="#e07070" stroke="none"/><path d="M199.5 196.3l0.4 1.5l0.4 -1.5z" fill="#e07070" stroke="none"/><path d="M203.0 197.2l0.4 1.5l0.4 -1.5z" fill="#e07070" stroke="none"/><path d="M204.7 198.0l0.4 1.5l0.4 -1.5z" fill="#e07070" stroke="none"/><path d="M203.4 202.0l0.4 1.5l0.4 -1.5z" fill="#e07070" stroke="none"/><path d="M206.5 193.7l0.4 1.5l0.4 -1.5z" fill="#e07070" stroke="none"/><path d="M210.0 186.7l0.4 1.5l0.4 -1.5z" fill="#e07070" stroke="none"/><path d="M210.0 191.0l0.4 1.5l0.4 -1.5z" fill="#e07070" stroke="none"/><path d="M210.9 192.8l0.4 1.5l0.4 -1.5z" fill="#e07070" stroke="none"/><path d="M212.6 194.5l0.4 1.5l0.4 -1.5z" fill="#e07070" stroke="none"/><path d="M209.1 198.9l0.4 1.5l0.4 -1.5z" fill="#e07070" stroke="none"/><path d="M210.9 198.0l0.4 1.5l0.4 -1.5z" fill="#e07070" stroke="none"/><path d="M209.1 201.1l0.4 1.5l0.4 -1.5z" fill="#e07070" stroke="none"/><path d="M211.7 200.7l0.4 1.5l0.4 -1.5z" fill="#e07070" stroke="none"/><path d="M214.4 200.7l0.4 1.5l0.4 -1.5z" fill="#e07070" stroke="none"/><path d="M212.6 203.3l0.4 1.5l0.4 -1.5z" fill="#e07070" stroke="none"/><path d="M214.4 206.8l0.4 1.5l0.4 -1.5z" fill="#e07070" stroke="none"/><path d="M191.6 199.4l0.4 1.5l0.4 -1.5z" fill="#e07070" stroke="none"/><path d="M195.1 199.4l0.4 1.5l0.4 -1.5z" fill="#e07070" stroke="none"/><path d="M199.9 208.1l0.4 1.5l0.4 -1.5z" fill="#e07070" stroke="none"/><path d="M206.5 206.8l0.4 1.5l0.4 -1.5z" fill="#e07070" stroke="none"/><path d="M208.2 207.7l0.4 1.5l0.4 -1.5z" fill="#e07070" stroke="none"/><path d="M210.0 208.1l0.4 1.5l0.4 -1.5z" fill="#e07070" stroke="none"/><path d="M205.6 209.4l0.4 1.5l0.4 -1.5z" fill="#e07070" stroke="none"/><path d="M207.4 209.9l0.4 1.5l0.4 -1.5z" fill="#e07070" stroke="none"/><path d="M204.3 211.6l0.4 1.5l0.4 -1.5z" fill="#e07070" stroke="none"/><path d="M205.2 213.8l0.4 1.5l0.4 -1.5z" fill="#e07070" stroke="none"/><path d="M217.4 191.5l0.4 1.5l0.4 -1.5z" fill="#e07070" stroke="none"/><path d="M221.8 193.2l0.4 1.5l0.4 -1.5z" fill="#e07070" stroke="none"/><path d="M218.3 204.6l0.4 1.5l0.4 -1.5z" fill="#e07070" stroke="none"/><path d="M220.5 198.9l0.4 1.5l0.4 -1.5z" fill="#e07070" stroke="none"/><path d="M223.1 198.0l0.4 1.5l0.4 -1.5z" fill="#e07070" stroke="none"/><path d="M225.8 195.9l0.4 1.5l0.4 -1.5z" fill="#e07070" stroke="none"/><path d="M227.9 195.4l0.4 1.5l0.4 -1.5z" fill="#e07070" stroke="none"/><path d="M226.2 198.9l0.4 1.5l0.4 -1.5z" fill="#e07070" stroke="none"/><path d="M228.4 199.8l0.4 1.5l0.4 -1.5z" fill="#e07070" stroke="none"/><path d="M230.6 193.7l0.4 1.5l0.4 -1.5z" fill="#e07070" stroke="none"/><path d="M233.2 193.2l0.4 1.5l0.4 -1.5z" fill="#e07070" stroke="none"/><path d="M233.6 199.8l0.4 1.5l0.4 -1.5z" fill="#e07070" stroke="none"/><path d="M236.3 198.9l0.4 1.5l0.4 -1.5z" fill="#e07070" stroke="none"/><path d="M235.4 192.8l0.4 1.5l0.4 -1.5z" fill="#e07070" stroke="none"/><path d="M238.5 197.7l0.4 1.5l0.4 -1.5z" fill="#e07070" stroke="none"/><path d="M240.2 195.4l0.4 1.5l0.4 -1.5z" fill="#e07070" stroke="none"/><path d="M242.4 192.8l0.4 1.5l0.4 -1.5z" fill="#e07070" stroke="none"/><circle cx="252.3" cy="61.4" r="1.3"/><circle cx="252.7" cy="62.7" r="1.3"/><circle cx="260.6" cy="61.4" r="1.3"/><circle cx="262.8" cy="61.0" r="1.3"/><circle cx="263.2" cy="62.3" r="1.3"/><circle cx="259.3" cy="66.2" r="1.3"/><circle cx="262.8" cy="67.1" r="1.3"/><circle cx="258.0" cy="71.0" r="1.3"/><circle cx="261.0" cy="73.2" r="1.3"/><circle cx="258.4" cy="77.6" r="1.3"/><circle cx="260.2" cy="76.7" r="1.3"/><circle cx="258.0" cy="78.9" r="1.3"/><circle cx="254.5" cy="79.8" r="1.3"/><circle cx="252.7" cy="80.6" r="1.3"/><circle cx="251.4" cy="82.0" r="1.3"/><circle cx="248.3" cy="83.3" r="1.3"/><circle cx="250.1" cy="85.5" r="1.3"/><circle cx="253.2" cy="84.6" r="1.3"/><circle cx="250.5" cy="88.5" r="1.3"/><circle cx="247.9" cy="92.4" r="1.3"/><circle cx="246.2" cy="94.2" r="1.3"/><circle cx="237.0" cy="95.9" r="1.3"/><circle cx="239.6" cy="96.8" r="1.3"/><circle cx="241.8" cy="96.8" r="1.3"/><circle cx="237.8" cy="98.9" r="1.3"/><circle cx="240.5" cy="99.4" r="1.3"/><circle cx="242.2" cy="98.9" r="1.3"/><circle cx="228.2" cy="102.4" r="1.3"/><circle cx="231.3" cy="102.0" r="1.3"/><circle cx="231.3" cy="104.6" r="1.3"/><circle cx="223.0" cy="107.3" r="1.3"/><circle cx="224.7" cy="106.8" r="1.3"/><circle cx="223.0" cy="109.9" r="1.3"/><circle cx="227.8" cy="109.5" r="1.3"/><circle cx="229.5" cy="107.7" r="1.3"/><circle cx="230.0" cy="109.0" r="1.3"/><circle cx="223.8" cy="114.3" r="1.3"/><circle cx="223.0" cy="116.0" r="1.3"/><circle cx="223.4" cy="118.2" r="1.3"/><circle cx="231.3" cy="116.9" r="1.3"/><circle cx="233.0" cy="116.0" r="1.3"/><circle cx="234.8" cy="115.1" r="1.3"/><circle cx="236.5" cy="111.2" r="1.3"/><circle cx="250.5" cy="110.3" r="1.3"/><circle cx="251.4" cy="111.6" r="1.3"/><circle cx="254.9" cy="113.4" r="1.3"/><circle cx="258.4" cy="113.8" r="1.3"/><circle cx="259.7" cy="109.5" r="1.3"/><circle cx="246.2" cy="113.8" r="1.3"/><circle cx="247.9" cy="115.1" r="1.3"/><circle cx="244.4" cy="116.9" r="1.3"/><circle cx="247.0" cy="117.8" r="1.3"/><circle cx="243.5" cy="118.2" r="1.3"/><circle cx="246.2" cy="120.0" r="1.3"/><circle cx="237.4" cy="116.9" r="1.3"/><circle cx="238.3" cy="120.4" r="1.3"/><circle cx="240.0" cy="121.3" r="1.3"/><circle cx="241.8" cy="121.7" r="1.3"/><circle cx="243.5" cy="121.3" r="1.3"/><circle cx="238.3" cy="123.0" r="1.3"/><circle cx="240.9" cy="123.9" r="1.3"/><circle cx="242.7" cy="124.8" r="1.3"/><circle cx="244.4" cy="124.3" r="1.3"/><circle cx="239.1" cy="125.7" r="1.3"/><circle cx="245.3" cy="126.5" r="1.3"/><circle cx="242.7" cy="128.3" r="1.3"/><circle cx="240.0" cy="129.2" r="1.3"/><circle cx="237.4" cy="130.0" r="1.3"/><circle cx="234.8" cy="120.0" r="1.3"/><circle cx="244.4" cy="129.2" r="1.3"/><circle cx="226.9" cy="119.1" r="1.3"/><circle cx="226.0" cy="121.3" r="1.3"/><circle cx="228.2" cy="120.8" r="1.3"/><circle cx="225.1" cy="123.0" r="1.3"/><circle cx="226.9" cy="123.5" r="1.3"/><circle cx="223.4" cy="124.8" r="1.3"/><circle cx="224.3" cy="126.5" r="1.3"/><circle cx="222.1" cy="127.8" r="1.3"/><circle cx="226.9" cy="128.3" r="1.3"/><circle cx="225.1" cy="129.2" r="1.3"/><circle cx="228.6" cy="129.2" r="1.3"/><circle cx="217.3" cy="128.7" r="1.3"/><circle cx="212.9" cy="131.3" r="1.3"/><circle cx="220.8" cy="131.8" r="1.3"/><circle cx="223.4" cy="131.8" r="1.3"/><circle cx="233.0" cy="130.9" r="1.3"/><circle cx="235.6" cy="131.3" r="1.3"/><circle cx="213.3" cy="131.5" r="1.3"/><circle cx="217.3" cy="128.9" r="1.3"/><circle cx="220.8" cy="129.8" r="1.3"/><circle cx="222.5" cy="131.5" r="1.3"/><circle cx="224.3" cy="130.6" r="1.3"/><circle cx="226.0" cy="129.8" r="1.3"/><circle cx="227.8" cy="129.3" r="1.3"/><circle cx="218.1" cy="134.6" r="1.3"/><circle cx="220.8" cy="134.1" r="1.3"/><circle cx="223.0" cy="133.3" r="1.3"/><circle cx="225.1" cy="132.8" r="1.3"/><circle cx="219.4" cy="136.8" r="1.3"/><circle cx="217.3" cy="138.9" r="1.3"/><circle cx="215.5" cy="140.7" r="1.3"/><circle cx="217.7" cy="141.6" r="1.3"/><circle cx="222.5" cy="139.4" r="1.3"/><circle cx="224.3" cy="140.7" r="1.3"/><circle cx="223.0" cy="143.3" r="1.3"/><circle cx="223.4" cy="145.5" r="1.3"/><circle cx="212.0" cy="143.8" r="1.3"/><circle cx="213.8" cy="144.6" r="1.3"/><circle cx="211.1" cy="145.1" r="1.3"/><circle cx="230.4" cy="134.1" r="1.3"/><circle cx="233.0" cy="131.1" r="1.3"/><circle cx="214.2" cy="147.7" r="1.3"/><circle cx="216.4" cy="148.1" r="1.3"/><circle cx="215.5" cy="150.8" r="1.3"/><circle cx="215.9" cy="153.8" r="1.3"/><circle cx="223.4" cy="149.0" r="1.3"/><circle cx="226.0" cy="149.0" r="1.3"/><circle cx="223.8" cy="151.2" r="1.3"/><circle cx="226.0" cy="151.6" r="1.3"/><circle cx="227.8" cy="152.5" r="1.3"/><circle cx="229.5" cy="153.0" r="1.3"/><circle cx="224.3" cy="154.3" r="1.3"/><circle cx="223.8" cy="156.0" r="1.3"/><circle cx="226.9" cy="154.3" r="1.3"/><circle cx="211.4" cy="143.3" r="1.3"/><circle cx="214.0" cy="142.4" r="1.3"/><circle cx="211.4" cy="145.0" r="1.3"/><circle cx="214.0" cy="147.6" r="1.3"/><circle cx="216.7" cy="147.6" r="1.3"/><circle cx="215.4" cy="150.7" r="1.3"/><circle cx="215.8" cy="153.8" r="1.3"/><circle cx="222.8" cy="148.5" r="1.3"/><circle cx="223.2" cy="154.2" r="1.3"/><circle cx="233.9" cy="137.6" r="1.3"/><circle cx="230.0" cy="138.5" r="1.3"/><circle cx="230.0" cy="141.6" r="1.3"/><circle cx="235.6" cy="134.1" r="1.3"/><circle cx="237.4" cy="132.4" r="1.3"/><circle cx="240.0" cy="131.5" r="1.3"/><circle cx="238.3" cy="135.9" r="1.3"/><circle cx="240.9" cy="136.8" r="1.3"/><circle cx="243.5" cy="135.0" r="1.3"/><circle cx="238.3" cy="139.4" r="1.3"/><circle cx="240.9" cy="140.3" r="1.3"/><circle cx="243.5" cy="138.5" r="1.3"/><circle cx="237.4" cy="142.0" r="1.3"/><circle cx="242.7" cy="142.4" r="1.3"/><circle cx="235.2" cy="146.4" r="1.3"/><circle cx="237.4" cy="146.8" r="1.3"/><circle cx="240.0" cy="146.4" r="1.3"/><circle cx="241.8" cy="146.0" r="1.3"/><circle cx="244.0" cy="146.0" r="1.3"/><circle cx="239.1" cy="149.0" r="1.3"/><circle cx="241.8" cy="149.5" r="1.3"/><circle cx="238.7" cy="153.0" r="1.3"/><circle cx="241.3" cy="152.5" r="1.3"/><circle cx="239.6" cy="144.6" r="1.3"/><circle cx="243.5" cy="128.9" r="1.3"/><circle cx="245.3" cy="129.8" r="1.3"/><circle cx="252.7" cy="136.3" r="1.3"/><circle cx="251.0" cy="142.0" r="1.3"/><circle cx="254.0" cy="141.1" r="1.3"/><circle cx="257.1" cy="140.7" r="1.3"/><circle cx="259.7" cy="143.8" r="1.3"/><circle cx="209.4" cy="161.7" r="1.3"/><circle cx="210.3" cy="164.3" r="1.3"/><circle cx="205.9" cy="163.0" r="1.3"/><circle cx="214.2" cy="166.5" r="1.3"/><circle cx="216.4" cy="161.3" r="1.3"/><circle cx="218.1" cy="165.7" r="1.3"/><circle cx="221.6" cy="168.7" r="1.3"/><circle cx="216.4" cy="169.2" r="1.3"/><circle cx="210.3" cy="167.8" r="1.3"/><circle cx="219.0" cy="170.9" r="1.3"/><circle cx="211.6" cy="171.3" r="1.3"/><circle cx="231.3" cy="163.9" r="1.3"/><circle cx="233.0" cy="162.2" r="1.3"/><circle cx="234.8" cy="164.8" r="1.3"/><circle cx="230.4" cy="166.5" r="1.3"/><circle cx="232.1" cy="167.8" r="1.3"/><circle cx="233.9" cy="167.4" r="1.3"/><circle cx="236.5" cy="161.7" r="1.3"/><circle cx="238.3" cy="163.0" r="1.3"/><circle cx="237.8" cy="166.5" r="1.3"/><circle cx="229.5" cy="170.0" r="1.3"/><circle cx="231.3" cy="170.9" r="1.3"/><circle cx="233.0" cy="170.5" r="1.3"/><circle cx="235.2" cy="170.0" r="1.3"/><circle cx="228.2" cy="170.9" r="1.3"/><circle cx="246.2" cy="168.7" r="1.3"/><circle cx="250.5" cy="171.8" r="1.3"/><circle cx="182.1" cy="144.6" r="1.3"/><circle cx="176.4" cy="149.4" r="1.3"/><circle cx="178.1" cy="148.1" r="1.3"/><circle cx="180.3" cy="148.9" r="1.3"/><circle cx="175.5" cy="152.0" r="1.3"/><circle cx="177.7" cy="151.1" r="1.3"/><circle cx="179.4" cy="152.0" r="1.3"/><circle cx="177.3" cy="153.8" r="1.3"/><circle cx="179.0" cy="155.1" r="1.3"/><circle cx="180.8" cy="153.3" r="1.3"/><circle cx="181.2" cy="156.8" r="1.3"/><circle cx="183.4" cy="151.1" r="1.3"/><circle cx="185.6" cy="149.8" r="1.3"/><circle cx="186.0" cy="152.4" r="1.3"/><circle cx="183.8" cy="154.2" r="1.3"/><circle cx="186.0" cy="155.5" r="1.3"/><circle cx="188.2" cy="153.3" r="1.3"/><circle cx="189.5" cy="154.6" r="1.3"/><circle cx="188.6" cy="156.4" r="1.3"/><circle cx="187.3" cy="155.1" r="1.3"/><circle cx="182.5" cy="155.5" r="1.3"/><circle cx="175.9" cy="155.5" r="1.3"/><circle cx="169.8" cy="157.3" r="1.3"/><circle cx="173.8" cy="159.5" r="1.3"/><circle cx="174.6" cy="161.2" r="1.3"/><circle cx="173.3" cy="162.1" r="1.3"/><circle cx="175.5" cy="164.3" r="1.3"/><circle cx="176.8" cy="166.0" r="1.3"/><circle cx="176.4" cy="167.8" r="1.3"/><circle cx="181.2" cy="165.6" r="1.3"/><circle cx="204.8" cy="161.6" r="1.3"/><circle cx="206.2" cy="163.4" r="1.3"/><circle cx="209.2" cy="161.6" r="1.3"/><circle cx="210.5" cy="164.3" r="1.3"/><circle cx="216.2" cy="160.8" r="1.3"/><circle cx="218.0" cy="166.0" r="1.3"/><circle cx="214.5" cy="166.9" r="1.3"/><circle cx="216.7" cy="168.6" r="1.3"/><circle cx="209.7" cy="168.2" r="1.3"/><circle cx="210.1" cy="171.3" r="1.3"/><circle cx="212.3" cy="171.3" r="1.3"/><circle cx="214.0" cy="173.0" r="1.3"/><circle cx="211.4" cy="173.9" r="1.3"/><circle cx="218.4" cy="171.3" r="1.3"/><circle cx="221.0" cy="171.7" r="1.3"/><circle cx="221.9" cy="168.6" r="1.3"/><circle cx="201.8" cy="170.8" r="1.3"/><circle cx="203.5" cy="173.0" r="1.3"/><circle cx="207.0" cy="175.7" r="1.3"/><circle cx="210.1" cy="177.8" r="1.3"/><circle cx="213.6" cy="175.7" r="1.3"/><circle cx="217.5" cy="177.4" r="1.3"/><circle cx="220.2" cy="175.7" r="1.3"/><circle cx="219.7" cy="180.9" r="1.3"/><circle cx="200.9" cy="168.2" r="1.3"/><circle cx="202.1" cy="170.9" r="1.3"/><circle cx="203.8" cy="173.1" r="1.3"/><circle cx="206.9" cy="176.1" r="1.3"/><circle cx="210.4" cy="171.8" r="1.3"/><circle cx="211.3" cy="174.4" r="1.3"/><circle cx="213.9" cy="175.7" r="1.3"/><circle cx="214.8" cy="173.5" r="1.3"/><circle cx="210.0" cy="177.9" r="1.3"/><circle cx="217.4" cy="177.4" r="1.3"/><circle cx="218.7" cy="175.3" r="1.3"/><circle cx="220.9" cy="176.1" r="1.3"/><circle cx="221.8" cy="177.4" r="1.3"/><circle cx="224.0" cy="174.8" r="1.3"/><circle cx="220.0" cy="180.9" r="1.3"/><circle cx="217.8" cy="183.6" r="1.3"/><circle cx="209.1" cy="181.8" r="1.3"/><circle cx="213.0" cy="184.0" r="1.3"/><circle cx="212.1" cy="185.8" r="1.3"/><circle cx="228.8" cy="170.9" r="1.3"/><circle cx="231.4" cy="170.9" r="1.3"/><circle cx="229.7" cy="173.9" r="1.3"/><circle cx="228.3" cy="176.6" r="1.3"/><circle cx="230.5" cy="178.8" r="1.3"/><circle cx="231.8" cy="181.4" r="1.3"/><circle cx="234.5" cy="178.3" r="1.3"/><circle cx="227.9" cy="183.1" r="1.3"/><circle cx="229.7" cy="184.4" r="1.3"/><circle cx="226.2" cy="184.9" r="1.3"/><circle cx="223.5" cy="186.6" r="1.3"/><circle cx="225.3" cy="187.5" r="1.3"/><circle cx="240.2" cy="174.8" r="1.3"/><circle cx="243.2" cy="175.3" r="1.3"/><circle cx="248.5" cy="176.0" r="1.3"/><circle cx="250.5" cy="178.0" r="1.3"/><circle cx="252.0" cy="175.5" r="1.3"/><circle cx="249.0" cy="181.0" r="1.3"/><circle cx="251.0" cy="183.0" r="1.3"/><circle cx="247.0" cy="185.0" r="1.3"/><circle cx="249.5" cy="186.5" r="1.3"/><circle cx="246.0" cy="179.5" r="1.3"/><circle cx="244.5" cy="182.5" r="1.3"/><circle cx="237.5" cy="179.2" r="1.3"/><circle cx="240.6" cy="178.3" r="1.3"/><circle cx="238.4" cy="183.1" r="1.3"/><circle cx="240.2" cy="185.8" r="1.3"/><circle cx="243.7" cy="188.4" r="1.3"/><circle cx="235.8" cy="188.8" r="1.3"/><circle cx="200.3" cy="190.1" r="1.3"/><circle cx="200.8" cy="191.9" r="1.3"/><circle cx="203.0" cy="193.6" r="1.3"/><circle cx="199.9" cy="195.4" r="1.3"/><circle cx="203.4" cy="196.3" r="1.3"/><circle cx="205.1" cy="197.1" r="1.3"/><circle cx="203.8" cy="201.1" r="1.3"/><circle cx="206.9" cy="192.8" r="1.3"/><circle cx="210.4" cy="185.8" r="1.3"/><circle cx="210.4" cy="190.1" r="1.3"/><circle cx="211.3" cy="191.9" r="1.3"/><circle cx="213.0" cy="193.6" r="1.3"/><circle cx="209.5" cy="198.0" r="1.3"/><circle cx="211.3" cy="197.1" r="1.3"/><circle cx="209.5" cy="200.2" r="1.3"/><circle cx="212.1" cy="199.8" r="1.3"/><circle cx="214.8" cy="199.8" r="1.3"/><circle cx="213.0" cy="202.4" r="1.3"/><circle cx="214.8" cy="205.9" r="1.3"/><circle cx="192.0" cy="198.5" r="1.3"/><circle cx="195.5" cy="198.5" r="1.3"/><circle cx="200.3" cy="207.2" r="1.3"/><circle cx="206.9" cy="205.9" r="1.3"/><circle cx="208.6" cy="206.8" r="1.3"/><circle cx="210.4" cy="207.2" r="1.3"/><circle cx="206.0" cy="208.5" r="1.3"/><circle cx="207.8" cy="209.0" r="1.3"/><circle cx="204.7" cy="210.7" r="1.3"/><circle cx="205.6" cy="212.9" r="1.3"/><circle cx="217.8" cy="190.6" r="1.3"/><circle cx="222.2" cy="192.3" r="1.3"/><circle cx="218.7" cy="203.7" r="1.3"/><circle cx="220.9" cy="198.0" r="1.3"/><circle cx="223.5" cy="197.1" r="1.3"/><circle cx="226.2" cy="195.0" r="1.3"/><circle cx="228.3" cy="194.5" r="1.3"/><circle cx="226.6" cy="198.0" r="1.3"/><circle cx="228.8" cy="198.9" r="1.3"/><circle cx="231.0" cy="192.8" r="1.3"/><circle cx="233.6" cy="192.3" r="1.3"/><circle cx="234.0" cy="198.9" r="1.3"/><circle cx="236.7" cy="198.0" r="1.3"/><circle cx="235.8" cy="191.9" r="1.3"/><circle cx="238.9" cy="196.8" r="1.3"/><circle cx="240.6" cy="194.5" r="1.3"/><circle cx="242.8" cy="191.9" r="1.3"/></g>
</defs>
<line x1="24.1" x2="335.3" y1="8.3" y2="8.3" stroke="#a4a4a4" stroke-width="1.1"/>
<line x1="24.6" x2="24.6" y1="7.8" y2="243.8" stroke="#8a8a8a" stroke-width="1.1"/>
<line x1="334.8" x2="334.8" y1="7.8" y2="243.3" stroke="#c2c2c2" stroke-width="1.2"/>
<line x1="24.1" x2="335.4" y1="243.3" y2="243.3" stroke="#747474" stroke-width="0.9"/>
<line x1="22.6" x2="24.0" y1="19.1" y2="19.1" stroke="#666" stroke-width="0.5"/>
<text transform="translate(22.10 21.35) scale(0.938 1)" font-family='"Liberation Sans",sans-serif' font-weight="normal" font-size="6.30" fill="#2a2a2a" text-anchor="end">45°N</text>
<line x1="22.6" x2="24.0" y1="131.3" y2="131.3" stroke="#666" stroke-width="0.5"/>
<text transform="translate(22.10 133.55) scale(0.938 1)" font-family='"Liberation Sans",sans-serif' font-weight="normal" font-size="6.30" fill="#2a2a2a" text-anchor="end">30°N</text>
<line x1="22.6" x2="24.0" y1="235.3" y2="235.3" stroke="#666" stroke-width="0.5"/>
<text transform="translate(22.10 237.55) scale(0.938 1)" font-family='"Liberation Sans",sans-serif' font-weight="normal" font-size="6.30" fill="#2a2a2a" text-anchor="end">15°N</text>
<line x1="94.4" x2="94.4" y1="243.8" y2="245.3" stroke="#666" stroke-width="0.5"/>
<text transform="translate(94.60 251.90) scale(0.904 1)" font-family='"Liberation Sans",sans-serif' font-weight="normal" font-size="6.60" fill="#2a2a2a" text-anchor="middle">90°E</text>
<line x1="177.5" x2="177.5" y1="243.8" y2="245.3" stroke="#666" stroke-width="0.5"/>
<text transform="translate(177.70 251.90) scale(0.842 1)" font-family='"Liberation Sans",sans-serif' font-weight="normal" font-size="6.60" fill="#2a2a2a" text-anchor="middle">105°E</text>
<line x1="259.6" x2="259.6" y1="243.8" y2="245.3" stroke="#666" stroke-width="0.5"/>
<text transform="translate(259.80 251.90) scale(0.836 1)" font-family='"Liberation Sans",sans-serif' font-weight="normal" font-size="6.60" fill="#2a2a2a" text-anchor="middle">120°E</text>
<g transform="translate(0.0 0.0)">
<use href="#cn" fill="#cccccc"/>
<g clip-path="url(#cnclip)">
<use href="#p_jilin" fill="#b4e6ea"/>
<use href="#p_liaoning" fill="#b4e6ea"/>
<use href="#p_hebei" fill="#c97f6d"/>
<use href="#p_shandong" fill="#c97f6d"/>
<use href="#p_henan" fill="#c97f6d"/>
<use href="#p_jiangsu" fill="#55c4d1"/>
<use href="#p_anhui" fill="#55c4d1"/>
<use href="#p_hubei" fill="#55c4d1"/>
<use href="#p_hunan" fill="#55c4d1"/>
<use href="#p_jiangxi" fill="#55c4d1"/>
<use href="#p_fujian" fill="#e9a52c"/>
<use href="#p_guangdong" fill="#e9a52c"/>
<use href="#p_guangxi" fill="#e9a52c"/>
<use href="#p_sichuan" fill="#55c4d1"/>
<use href="#p_bjtj" fill="#cccccc"/>
</g>
<use href="#blines"/>
<use href="#dots"/>
</g>
<line x1="271.0" y1="187.0" x2="269.6" y2="193.9" stroke="#7c9c4a" stroke-width="0.7"/><line x1="267.4" y1="204.8" x2="263.7" y2="210.7" stroke="#7c9c4a" stroke-width="0.7"/><line x1="258.6" y1="221.6" x2="255.7" y2="228.2" stroke="#7c9c4a" stroke-width="0.7"/><line x1="254.5" y1="239.9" x2="254.2" y2="243.0" stroke="#7c9c4a" stroke-width="0.7"/><line x1="201.0" y1="240.6" x2="203.1" y2="242.8" stroke="#7c9c4a" stroke-width="0.7"/>
<rect x="297.2" y="201.2" width="35.6" height="40.3" fill="#fff" stroke="#a8a8a8" stroke-width="0.9"/>
<path d="M299.00 202.00 L311.20 202.00 L309.50 205.00 L307.60 208.20 L305.50 208.00 L303.10 207.10 L301.00 205.20 L299.50 203.60Z" fill="#e9a52c"/>
<path d="M311.00 202.00 L321.80 202.00 L320.00 203.60 L317.60 205.30 L315.00 206.30 L312.20 207.20 L310.00 207.80 L307.40 208.30 L309.30 205.00Z" fill="#e9a52c"/>
<path d="M307.6 208.2 L312.2 207.2 L317.6 205.3 L321.4 202.3" fill="none" stroke="#777" stroke-width="0.45"/>
<path d="M307.80 209.60 L309.60 210.80 L308.80 212.80 L306.80 213.60 L305.40 212.40 L306.20 210.40Z" fill="#fff" stroke="#666" stroke-width="0.45"/>
<path d="M324.20 202.60 L325.60 203.80 L325.20 206.40 L324.00 209.40 L322.80 207.60 L322.60 204.60Z" fill="#fff" stroke="#777" stroke-width="0.4"/>
<rect x="323.7" y="205.2" width="0.7" height="0.7" fill="#555"/>
<rect x="325.0" y="207.7" width="0.7" height="0.7" fill="#555"/>
<rect x="324.2" y="210.7" width="0.7" height="0.7" fill="#555"/>
<rect x="318.7" y="210.2" width="0.7" height="0.7" fill="#555"/>
<rect x="322.7" y="214.7" width="0.7" height="0.7" fill="#555"/>
<rect x="311.2" y="217.2" width="0.7" height="0.7" fill="#555"/>
<rect x="314.2" y="216.4" width="0.7" height="0.7" fill="#555"/>
<rect x="321.6" y="218.4" width="0.7" height="0.7" fill="#555"/>
<rect x="318.5" y="219.4" width="0.7" height="0.7" fill="#555"/>
<rect x="308.8" y="218.8" width="0.7" height="0.7" fill="#555"/>
<rect x="310.4" y="225.8" width="0.7" height="0.7" fill="#555"/>
<rect x="314.6" y="230.6" width="0.7" height="0.7" fill="#555"/>
<rect x="316.2" y="228.8" width="0.7" height="0.7" fill="#555"/>
<rect x="318.2" y="227.8" width="0.7" height="0.7" fill="#555"/>
<rect x="320.6" y="226.6" width="0.7" height="0.7" fill="#555"/>
<rect x="323.0" y="225.8" width="0.7" height="0.7" fill="#555"/>
<rect x="312.4" y="231.8" width="0.7" height="0.7" fill="#555"/>
<rect x="309.4" y="232.8" width="0.7" height="0.7" fill="#555"/>
<rect x="305.8" y="234.6" width="0.7" height="0.7" fill="#555"/>
<rect x="311.4" y="233.6" width="0.7" height="0.7" fill="#555"/>
<rect x="313.4" y="236.0" width="0.7" height="0.7" fill="#555"/>
<rect x="315.4" y="233.0" width="0.7" height="0.7" fill="#555"/>
<rect x="317.4" y="231.4" width="0.7" height="0.7" fill="#555"/>
<rect x="313.8" y="239.4" width="0.7" height="0.7" fill="#555"/>
<rect x="30.9" y="192.1" width="12.6" height="6.3" fill="#cbcbcb"/>
<text transform="translate(46.00 197.90) scale(0.920 1)" font-family='"Liberation Serif",serif' font-weight="bold" font-size="7.20" fill="#000" text-anchor="start">Nodata</text>
<rect x="30.9" y="202.1" width="12.6" height="6.3" fill="#b4e6ea"/>
<text transform="translate(46.00 207.90) scale(0.920 1)" font-family='"Liberation Serif",serif' font-weight="bold" font-size="7.20" fill="#000" text-anchor="start">Northeast</text>
<rect x="30.9" y="212.1" width="12.6" height="6.3" fill="#55c4d1"/>
<text transform="translate(46.00 217.90) scale(0.920 1)" font-family='"Liberation Serif",serif' font-weight="bold" font-size="7.20" fill="#000" text-anchor="start">Yangtze River Basin</text>
<rect x="30.9" y="222.3" width="12.6" height="6.3" fill="#c97f6d"/>
<text transform="translate(46.00 228.10) scale(0.920 1)" font-family='"Liberation Serif",serif' font-weight="bold" font-size="7.20" fill="#000" text-anchor="start">Yellow River Basin</text>
<rect x="30.9" y="232.5" width="12.6" height="6.3" fill="#e9a52c"/>
<text transform="translate(46.00 238.30) scale(0.920 1)" font-family='"Liberation Serif",serif' font-weight="bold" font-size="7.20" fill="#000" text-anchor="start">Southeast Coastal</text>
<line x1="372.9" x2="684.1" y1="8.3" y2="8.3" stroke="#a4a4a4" stroke-width="1.1"/>
<line x1="373.4" x2="373.4" y1="7.8" y2="243.8" stroke="#8a8a8a" stroke-width="1.1"/>
<line x1="683.6" x2="683.6" y1="7.8" y2="243.3" stroke="#c2c2c2" stroke-width="1.2"/>
<line x1="372.9" x2="684.2" y1="243.3" y2="243.3" stroke="#747474" stroke-width="0.9"/>
<line x1="371.4" x2="372.8" y1="19.1" y2="19.1" stroke="#666" stroke-width="0.5"/>
<text transform="translate(370.90 21.35) scale(0.938 1)" font-family='"Liberation Sans",sans-serif' font-weight="normal" font-size="6.30" fill="#2a2a2a" text-anchor="end">45°N</text>
<line x1="371.4" x2="372.8" y1="131.3" y2="131.3" stroke="#666" stroke-width="0.5"/>
<text transform="translate(370.90 133.55) scale(0.938 1)" font-family='"Liberation Sans",sans-serif' font-weight="normal" font-size="6.30" fill="#2a2a2a" text-anchor="end">30°N</text>
<line x1="371.4" x2="372.8" y1="235.3" y2="235.3" stroke="#666" stroke-width="0.5"/>
<text transform="translate(370.90 237.55) scale(0.938 1)" font-family='"Liberation Sans",sans-serif' font-weight="normal" font-size="6.30" fill="#2a2a2a" text-anchor="end">15°N</text>
<line x1="443.2" x2="443.2" y1="243.8" y2="245.3" stroke="#666" stroke-width="0.5"/>
<text transform="translate(443.40 251.90) scale(0.904 1)" font-family='"Liberation Sans",sans-serif' font-weight="normal" font-size="6.60" fill="#2a2a2a" text-anchor="middle">90°E</text>
<line x1="526.3" x2="526.3" y1="243.8" y2="245.3" stroke="#666" stroke-width="0.5"/>
<text transform="translate(526.50 251.90) scale(0.842 1)" font-family='"Liberation Sans",sans-serif' font-weight="normal" font-size="6.60" fill="#2a2a2a" text-anchor="middle">105°E</text>
<line x1="608.4" x2="608.4" y1="243.8" y2="245.3" stroke="#666" stroke-width="0.5"/>
<text transform="translate(608.60 251.90) scale(0.836 1)" font-family='"Liberation Sans",sans-serif' font-weight="normal" font-size="6.60" fill="#2a2a2a" text-anchor="middle">120°E</text>
<g transform="translate(348.8 0.0)">
<use href="#cn" fill="#cccccc"/>
<g clip-path="url(#cnclip)">
<use href="#p_jilin" fill="#eed07c"/>
<use href="#p_liaoning" fill="#ef8125"/>
<use href="#p_hebei" fill="#ef8125"/>
<use href="#p_shandong" fill="#ec2316"/>
<use href="#p_henan" fill="#ec2316"/>
<use href="#p_jiangsu" fill="#eba62e"/>
<use href="#p_anhui" fill="#ef8125"/>
<use href="#p_hubei" fill="#ef8125"/>
<use href="#p_hunan" fill="#eba62e"/>
<use href="#p_jiangxi" fill="#ef8125"/>
<use href="#p_fujian" fill="#eba62e"/>
<use href="#p_guangdong" fill="#ef8125"/>
<use href="#p_guangxi" fill="#eba62e"/>
<use href="#p_sichuan" fill="#eba62e"/>
<use href="#p_bjtj" fill="#cccccc"/>
</g>
<use href="#blines"/>
</g>
<line x1="619.8" y1="187.0" x2="618.4" y2="193.9" stroke="#7c9c4a" stroke-width="0.7"/><line x1="616.2" y1="204.8" x2="612.5" y2="210.7" stroke="#7c9c4a" stroke-width="0.7"/><line x1="607.4" y1="221.6" x2="604.5" y2="228.2" stroke="#7c9c4a" stroke-width="0.7"/><line x1="603.3" y1="239.9" x2="603.0" y2="243.0" stroke="#7c9c4a" stroke-width="0.7"/><line x1="549.8" y1="240.6" x2="551.9" y2="242.8" stroke="#7c9c4a" stroke-width="0.7"/>
<rect x="646.0" y="201.2" width="35.6" height="40.3" fill="#fff" stroke="#a8a8a8" stroke-width="0.9"/>
<path d="M647.80 202.00 L660.00 202.00 L658.30 205.00 L656.40 208.20 L654.30 208.00 L651.90 207.10 L649.80 205.20 L648.30 203.60Z" fill="#eba62e"/>
<path d="M659.80 202.00 L670.60 202.00 L668.80 203.60 L666.40 205.30 L663.80 206.30 L661.00 207.20 L658.80 207.80 L656.20 208.30 L658.10 205.00Z" fill="#ef8125"/>
<path d="M656.4 208.2 L661.0 207.2 L666.4 205.3 L670.2 202.3" fill="none" stroke="#777" stroke-width="0.45"/>
<path d="M656.60 209.60 L658.40 210.80 L657.60 212.80 L655.60 213.60 L654.20 212.40 L655.00 210.40Z" fill="#fff" stroke="#666" stroke-width="0.45"/>
<path d="M673.00 202.60 L674.40 203.80 L674.00 206.40 L672.80 209.40 L671.60 207.60 L671.40 204.60Z" fill="#fff" stroke="#777" stroke-width="0.4"/>
<rect x="672.5" y="205.2" width="0.7" height="0.7" fill="#555"/>
<rect x="673.8" y="207.7" width="0.7" height="0.7" fill="#555"/>
<rect x="673.0" y="210.7" width="0.7" height="0.7" fill="#555"/>
<rect x="667.5" y="210.2" width="0.7" height="0.7" fill="#555"/>
<rect x="671.5" y="214.7" width="0.7" height="0.7" fill="#555"/>
<rect x="660.0" y="217.2" width="0.7" height="0.7" fill="#555"/>
<rect x="663.0" y="216.4" width="0.7" height="0.7" fill="#555"/>
<rect x="670.4" y="218.4" width="0.7" height="0.7" fill="#555"/>
<rect x="667.3" y="219.4" width="0.7" height="0.7" fill="#555"/>
<rect x="657.6" y="218.8" width="0.7" height="0.7" fill="#555"/>
<rect x="659.2" y="225.8" width="0.7" height="0.7" fill="#555"/>
<rect x="663.4" y="230.6" width="0.7" height="0.7" fill="#555"/>
<rect x="665.0" y="228.8" width="0.7" height="0.7" fill="#555"/>
<rect x="667.0" y="227.8" width="0.7" height="0.7" fill="#555"/>
<rect x="669.4" y="226.6" width="0.7" height="0.7" fill="#555"/>
<rect x="671.8" y="225.8" width="0.7" height="0.7" fill="#555"/>
<rect x="661.2" y="231.8" width="0.7" height="0.7" fill="#555"/>
<rect x="658.2" y="232.8" width="0.7" height="0.7" fill="#555"/>
<rect x="654.6" y="234.6" width="0.7" height="0.7" fill="#555"/>
<rect x="660.2" y="233.6" width="0.7" height="0.7" fill="#555"/>
<rect x="662.2" y="236.0" width="0.7" height="0.7" fill="#555"/>
<rect x="664.2" y="233.0" width="0.7" height="0.7" fill="#555"/>
<rect x="666.2" y="231.4" width="0.7" height="0.7" fill="#555"/>
<rect x="662.6" y="239.4" width="0.7" height="0.7" fill="#555"/>
<text transform="translate(616.50 71.50) scale(0.960 1)" font-family='"Liberation Sans",sans-serif' font-weight="bold" font-size="5.00" fill="#111" text-anchor="middle" stroke="#111" stroke-width="0.2">Jilin</text><text transform="translate(604.00 88.80) scale(0.960 1)" font-family='"Liberation Sans",sans-serif' font-weight="bold" font-size="5.00" fill="#111" text-anchor="middle" stroke="#111" stroke-width="0.2">Liaoning</text><text transform="translate(576.80 110.70) scale(0.960 1)" font-family='"Liberation Sans",sans-serif' font-weight="bold" font-size="5.00" fill="#111" text-anchor="middle" stroke="#111" stroke-width="0.2">Hebei</text><text transform="translate(583.00 121.10) scale(0.960 1)" font-family='"Liberation Sans",sans-serif' font-weight="bold" font-size="5.00" fill="#111" text-anchor="middle" stroke="#111" stroke-width="0.2">Shandong</text><text transform="translate(566.80 137.30) scale(0.960 1)" font-family='"Liberation Sans",sans-serif' font-weight="bold" font-size="5.00" fill="#111" text-anchor="middle" stroke="#111" stroke-width="0.2">Henan</text><text transform="translate(596.60 140.20) scale(0.960 1)" font-family='"Liberation Sans",sans-serif' font-weight="bold" font-size="5.00" fill="#111" text-anchor="middle" stroke="#111" stroke-width="0.2">Jiangsu</text><text transform="translate(586.70 147.70) scale(0.960 1)" font-family='"Liberation Sans",sans-serif' font-weight="bold" font-size="5.00" fill="#111" text-anchor="middle" stroke="#111" stroke-width="0.2">Anhui</text><text transform="translate(565.60 154.10) scale(0.960 1)" font-family='"Liberation Sans",sans-serif' font-weight="bold" font-size="5.00" fill="#111" text-anchor="middle" stroke="#111" stroke-width="0.2">Hubei</text><text transform="translate(514.70 156.60) scale(0.960 1)" font-family='"Liberation Sans",sans-serif' font-weight="bold" font-size="5.00" fill="#111" text-anchor="middle" stroke="#111" stroke-width="0.2">Sichuan</text><text transform="translate(560.10 174.60) scale(0.960 1)" font-family='"Liberation Sans",sans-serif' font-weight="bold" font-size="5.00" fill="#111" text-anchor="middle" stroke="#111" stroke-width="0.2">Hunan</text><text transform="translate(579.90 173.60) scale(0.960 1)" font-family='"Liberation Sans",sans-serif' font-weight="bold" font-size="5.00" fill="#111" text-anchor="middle" stroke="#111" stroke-width="0.2">Jiangxi</text><text transform="translate(593.70 180.90) scale(0.960 1)" font-family='"Liberation Sans",sans-serif' font-weight="bold" font-size="5.00" fill="#111" text-anchor="middle" stroke="#111" stroke-width="0.2">Fujian</text><text transform="translate(546.30 197.00) scale(0.960 1)" font-family='"Liberation Sans",sans-serif' font-weight="bold" font-size="5.00" fill="#111" text-anchor="middle" stroke="#111" stroke-width="0.2">Guangxi</text><text transform="translate(573.30 199.90) scale(0.960 1)" font-family='"Liberation Sans",sans-serif' font-weight="bold" font-size="5.00" fill="#111" text-anchor="middle" stroke="#111" stroke-width="0.2">Guangdong</text>
<text transform="translate(378.80 215.00) scale(0.919 1)" font-family='"Liberation Sans",sans-serif' font-weight="bold" font-size="6.30" fill="#1a1a1a" text-anchor="start">Provincial total peanut samples</text>
<rect x="385.40" y="217.8" width="10.46" height="5.1" fill="#f2e8a8"/>
<rect x="395.76" y="217.8" width="10.46" height="5.1" fill="#eed07c"/>
<rect x="406.12" y="217.8" width="10.46" height="5.1" fill="#eba62e"/>
<rect x="416.48" y="217.8" width="10.46" height="5.1" fill="#ef8125"/>
<rect x="426.84" y="217.8" width="10.46" height="5.1" fill="#ec2316"/>
<g transform="translate(390.8 228.4) rotate(-45)"><text transform="translate(0.00 0.00) scale(1.000 1)" font-family='"Liberation Sans",sans-serif' font-weight="bold" font-size="6.40" fill="#1a1a1a" text-anchor="end">150</text></g>
<g transform="translate(401.2 228.4) rotate(-45)"><text transform="translate(0.00 0.00) scale(1.000 1)" font-family='"Liberation Sans",sans-serif' font-weight="bold" font-size="6.40" fill="#1a1a1a" text-anchor="end">500</text></g>
<g transform="translate(411.5 228.4) rotate(-45)"><text transform="translate(0.00 0.00) scale(1.000 1)" font-family='"Liberation Sans",sans-serif' font-weight="bold" font-size="6.40" fill="#1a1a1a" text-anchor="end">850</text></g>
<g transform="translate(421.9 228.4) rotate(-45)"><text transform="translate(0.00 0.00) scale(1.000 1)" font-family='"Liberation Sans",sans-serif' font-weight="bold" font-size="6.40" fill="#1a1a1a" text-anchor="end">1300</text></g>
<g transform="translate(432.2 228.4) rotate(-45)"><text transform="translate(0.00 0.00) scale(1.000 1)" font-family='"Liberation Sans",sans-serif' font-weight="bold" font-size="6.40" fill="#1a1a1a" text-anchor="end">2800</text></g>
<line x1="24.1" x2="335.3" y1="267.8" y2="267.8" stroke="#a4a4a4" stroke-width="1.1"/>
<line x1="24.6" x2="24.6" y1="267.3" y2="504.1" stroke="#8a8a8a" stroke-width="1.1"/>
<line x1="334.8" x2="334.8" y1="267.3" y2="503.6" stroke="#c2c2c2" stroke-width="1.2"/>
<line x1="24.1" x2="335.4" y1="503.6" y2="503.6" stroke="#747474" stroke-width="0.9"/>
<line x1="22.6" x2="24.0" y1="278.6" y2="278.6" stroke="#666" stroke-width="0.5"/>
<text transform="translate(22.10 280.85) scale(0.938 1)" font-family='"Liberation Sans",sans-serif' font-weight="normal" font-size="6.30" fill="#2a2a2a" text-anchor="end">45°N</text>
<line x1="22.6" x2="24.0" y1="390.8" y2="390.8" stroke="#666" stroke-width="0.5"/>
<text transform="translate(22.10 393.05) scale(0.938 1)" font-family='"Liberation Sans",sans-serif' font-weight="normal" font-size="6.30" fill="#2a2a2a" text-anchor="end">30°N</text>
<line x1="22.6" x2="24.0" y1="494.8" y2="494.8" stroke="#666" stroke-width="0.5"/>
<text transform="translate(22.10 497.05) scale(0.938 1)" font-family='"Liberation Sans",sans-serif' font-weight="normal" font-size="6.30" fill="#2a2a2a" text-anchor="end">15°N</text>
<line x1="94.4" x2="94.4" y1="504.1" y2="505.6" stroke="#666" stroke-width="0.5"/>
<text transform="translate(94.60 512.20) scale(0.904 1)" font-family='"Liberation Sans",sans-serif' font-weight="normal" font-size="6.60" fill="#2a2a2a" text-anchor="middle">90°E</text>
<line x1="177.5" x2="177.5" y1="504.1" y2="505.6" stroke="#666" stroke-width="0.5"/>
<text transform="translate(177.70 512.20) scale(0.842 1)" font-family='"Liberation Sans",sans-serif' font-weight="normal" font-size="6.60" fill="#2a2a2a" text-anchor="middle">105°E</text>
<line x1="259.6" x2="259.6" y1="504.1" y2="505.6" stroke="#666" stroke-width="0.5"/>
<text transform="translate(259.80 512.20) scale(0.836 1)" font-family='"Liberation Sans",sans-serif' font-weight="normal" font-size="6.60" fill="#2a2a2a" text-anchor="middle">120°E</text>
<g transform="translate(0.0 259.5)">
<use href="#cn" fill="#cccccc"/>
<g clip-path="url(#cnclip)">
<use href="#p_jilin" fill="#55c4d1"/>
<use href="#p_liaoning" fill="#55c4d1"/>
<use href="#p_hebei" fill="#55c4d1"/>
<use href="#p_shandong" fill="#b4e6ea"/>
<use href="#p_henan" fill="#e9a52c"/>
<use href="#p_jiangsu" fill="#b4e6ea"/>
<use href="#p_anhui" fill="#e9a52c"/>
<use href="#p_hubei" fill="#e9a52c"/>
<use href="#p_hunan" fill="#d21f17"/>
<use href="#p_jiangxi" fill="#d21f17"/>
<use href="#p_fujian" fill="#e9a52c"/>
<use href="#p_guangdong" fill="#b4e6ea"/>
<use href="#p_guangxi" fill="#e9a52c"/>
<use href="#p_sichuan" fill="#cf8e26"/>
<use href="#p_bjtj" fill="#cccccc"/>
</g>
<use href="#blines"/>
</g>
<rect x="297.2" y="460.7" width="35.6" height="40.3" fill="#fff" stroke="#a8a8a8" stroke-width="0.9"/>
<path d="M299.00 461.50 L311.20 461.50 L309.50 464.50 L307.60 467.70 L305.50 467.50 L303.10 466.60 L301.00 464.70 L299.50 463.10Z" fill="#e9a52c"/>
<path d="M311.00 461.50 L321.80 461.50 L320.00 463.10 L317.60 464.80 L315.00 465.80 L312.20 466.70 L310.00 467.30 L307.40 467.80 L309.30 464.50Z" fill="#b4e6ea"/>
<path d="M307.6 467.7 L312.2 466.7 L317.6 464.8 L321.4 461.8" fill="none" stroke="#777" stroke-width="0.45"/>
<path d="M307.80 469.10 L309.60 470.30 L308.80 472.30 L306.80 473.10 L305.40 471.90 L306.20 469.90Z" fill="#fff" stroke="#666" stroke-width="0.45"/>
<path d="M324.20 462.10 L325.60 463.30 L325.20 465.90 L324.00 468.90 L322.80 467.10 L322.60 464.10Z" fill="#fff" stroke="#777" stroke-width="0.4"/>
<rect x="323.7" y="464.7" width="0.7" height="0.7" fill="#555"/>
<rect x="325.0" y="467.2" width="0.7" height="0.7" fill="#555"/>
<rect x="324.2" y="470.2" width="0.7" height="0.7" fill="#555"/>
<rect x="318.7" y="469.7" width="0.7" height="0.7" fill="#555"/>
<rect x="322.7" y="474.2" width="0.7" height="0.7" fill="#555"/>
<rect x="311.2" y="476.7" width="0.7" height="0.7" fill="#555"/>
<rect x="314.2" y="475.9" width="0.7" height="0.7" fill="#555"/>
<rect x="321.6" y="477.9" width="0.7" height="0.7" fill="#555"/>
<rect x="318.5" y="478.9" width="0.7" height="0.7" fill="#555"/>
<rect x="308.8" y="478.3" width="0.7" height="0.7" fill="#555"/>
<rect x="310.4" y="485.3" width="0.7" height="0.7" fill="#555"/>
<rect x="314.6" y="490.1" width="0.7" height="0.7" fill="#555"/>
<rect x="316.2" y="488.3" width="0.7" height="0.7" fill="#555"/>
<rect x="318.2" y="487.3" width="0.7" height="0.7" fill="#555"/>
<rect x="320.6" y="486.1" width="0.7" height="0.7" fill="#555"/>
<rect x="323.0" y="485.3" width="0.7" height="0.7" fill="#555"/>
<rect x="312.4" y="491.3" width="0.7" height="0.7" fill="#555"/>
<rect x="309.4" y="492.3" width="0.7" height="0.7" fill="#555"/>
<rect x="305.8" y="494.1" width="0.7" height="0.7" fill="#555"/>
<rect x="311.4" y="493.1" width="0.7" height="0.7" fill="#555"/>
<rect x="313.4" y="495.5" width="0.7" height="0.7" fill="#555"/>
<rect x="315.4" y="492.5" width="0.7" height="0.7" fill="#555"/>
<rect x="317.4" y="490.9" width="0.7" height="0.7" fill="#555"/>
<rect x="313.8" y="498.9" width="0.7" height="0.7" fill="#555"/>
<text transform="translate(268.40 331.60) scale(0.960 1)" font-family='"Liberation Sans",sans-serif' font-weight="bold" font-size="5.00" fill="#111" text-anchor="middle" stroke="#111" stroke-width="0.2">Jilin</text><text transform="translate(255.70 348.50) scale(0.960 1)" font-family='"Liberation Sans",sans-serif' font-weight="bold" font-size="5.00" fill="#111" text-anchor="middle" stroke="#111" stroke-width="0.2">Liaoning</text><text transform="translate(229.20 370.00) scale(0.960 1)" font-family='"Liberation Sans",sans-serif' font-weight="bold" font-size="5.00" fill="#111" text-anchor="middle" stroke="#111" stroke-width="0.2">Hebei</text><text transform="translate(237.90 380.70) scale(0.960 1)" font-family='"Liberation Sans",sans-serif' font-weight="bold" font-size="5.00" fill="#111" text-anchor="middle" stroke="#111" stroke-width="0.2">Shandong</text><text transform="translate(218.50 396.80) scale(0.960 1)" font-family='"Liberation Sans",sans-serif' font-weight="bold" font-size="5.00" fill="#111" text-anchor="middle" stroke="#111" stroke-width="0.2">Henan</text><text transform="translate(249.00 399.80) scale(0.960 1)" font-family='"Liberation Sans",sans-serif' font-weight="bold" font-size="5.00" fill="#111" text-anchor="middle" stroke="#111" stroke-width="0.2">Jiangsu</text><text transform="translate(238.60 407.50) scale(0.960 1)" font-family='"Liberation Sans",sans-serif' font-weight="bold" font-size="5.00" fill="#111" text-anchor="middle" stroke="#111" stroke-width="0.2">Anhui</text><text transform="translate(216.80 414.20) scale(0.960 1)" font-family='"Liberation Sans",sans-serif' font-weight="bold" font-size="5.00" fill="#111" text-anchor="middle" stroke="#111" stroke-width="0.2">Hubei</text><text transform="translate(166.40 416.40) scale(0.960 1)" font-family='"Liberation Sans",sans-serif' font-weight="bold" font-size="5.00" fill="#111" text-anchor="middle" stroke="#111" stroke-width="0.2">Sichuan</text><text transform="translate(211.80 434.40) scale(0.960 1)" font-family='"Liberation Sans",sans-serif' font-weight="bold" font-size="5.00" fill="#111" text-anchor="middle" stroke="#111" stroke-width="0.2">Hunan</text><text transform="translate(230.40 433.20) scale(0.960 1)" font-family='"Liberation Sans",sans-serif' font-weight="bold" font-size="5.00" fill="#111" text-anchor="middle" stroke="#111" stroke-width="0.2">Jiangxi</text><text transform="translate(245.30 440.90) scale(0.960 1)" font-family='"Liberation Sans",sans-serif' font-weight="bold" font-size="5.00" fill="#111" text-anchor="middle" stroke="#111" stroke-width="0.2">Fujian</text><text transform="translate(198.20 456.70) scale(0.960 1)" font-family='"Liberation Sans",sans-serif' font-weight="bold" font-size="5.00" fill="#111" text-anchor="middle" stroke="#111" stroke-width="0.2">Guangxi</text><text transform="translate(225.50 459.50) scale(0.960 1)" font-family='"Liberation Sans",sans-serif' font-weight="bold" font-size="5.00" fill="#111" text-anchor="middle" stroke="#111" stroke-width="0.2">Guangdong</text>
<text transform="translate(30.60 470.00) scale(0.819 1)" font-family='"Liberation Sans",sans-serif' font-weight="bold" font-size="6.40" fill="#1a1a1a" text-anchor="start">Provincial mean AFB from 2009 to 2022  (μg/kg)</text>
<rect x="35.00" y="472.5" width="10.5" height="5.4" fill="#55c4d1"/>
<rect x="45.40" y="472.5" width="10.5" height="5.4" fill="#b4e6ea"/>
<rect x="55.80" y="472.5" width="10.5" height="5.4" fill="#e9a52c"/>
<rect x="66.20" y="472.5" width="10.5" height="5.4" fill="#cf8e26"/>
<rect x="76.60" y="472.5" width="10.5" height="5.4" fill="#d21f17"/>
<g transform="translate(40.4 483.6) rotate(-45)"><text transform="translate(0.00 0.00) scale(1.000 1)" font-family='"Liberation Sans",sans-serif' font-weight="bold" font-size="6.40" fill="#1a1a1a" text-anchor="end">2.0</text></g>
<g transform="translate(50.8 483.6) rotate(-45)"><text transform="translate(0.00 0.00) scale(1.000 1)" font-family='"Liberation Sans",sans-serif' font-weight="bold" font-size="6.40" fill="#1a1a1a" text-anchor="end">5.0</text></g>
<g transform="translate(61.2 483.6) rotate(-45)"><text transform="translate(0.00 0.00) scale(1.000 1)" font-family='"Liberation Sans",sans-serif' font-weight="bold" font-size="6.40" fill="#1a1a1a" text-anchor="end">20.0</text></g>
<g transform="translate(71.6 483.6) rotate(-45)"><text transform="translate(0.00 0.00) scale(1.000 1)" font-family='"Liberation Sans",sans-serif' font-weight="bold" font-size="6.40" fill="#1a1a1a" text-anchor="end">30.0</text></g>
<g transform="translate(82.0 483.6) rotate(-45)"><text transform="translate(0.00 0.00) scale(1.000 1)" font-family='"Liberation Sans",sans-serif' font-weight="bold" font-size="6.40" fill="#1a1a1a" text-anchor="end">40.0</text></g>
<rect x="30.6" y="494.1" width="10.2" height="4.7" fill="#cbcbcb"/>
<text transform="translate(43.00 498.80) scale(0.827 1)" font-family='"Liberation Sans",sans-serif' font-weight="bold" font-size="5.60" fill="#222" text-anchor="start">Nodata</text>
<rect x="380.8" y="437.0" width="302.0" height="2.5" fill="#ec2a24"/>
<line x1="392.2" x2="392.2" y1="498.9" y2="481.8" class="eb"/>
<line x1="388.8" x2="395.6" y1="481.8" y2="481.8" class="ec"/>
<rect x="385.6" y="498.9" width="13.3" height="3.5" fill="#3b5ba8" stroke="#151515" stroke-width="0.9"/>
<text transform="translate(392.20 515.70) scale(0.854 1)" font-family='"Liberation Sans",sans-serif' font-weight="bold" font-size="10.00" fill="#111" text-anchor="middle">2009</text>
<line x1="413.5" x2="413.5" y1="497.3" y2="479.3" class="eb"/>
<line x1="410.1" x2="416.9" y1="479.3" y2="479.3" class="ec"/>
<rect x="406.9" y="497.3" width="13.3" height="5.1" fill="#3b5ba8" stroke="#151515" stroke-width="0.9"/>
<text transform="translate(413.50 515.70) scale(0.854 1)" font-family='"Liberation Sans",sans-serif' font-weight="bold" font-size="10.00" fill="#111" text-anchor="middle">2010</text>
<line x1="434.8" x2="434.8" y1="483.4" y2="389.5" class="eb"/>
<line x1="431.4" x2="438.2" y1="389.5" y2="389.5" class="ec"/>
<rect x="428.2" y="483.4" width="13.3" height="19.0" fill="#3b5ba8" stroke="#151515" stroke-width="0.9"/>
<text transform="translate(434.80 515.70) scale(0.876 1)" font-family='"Liberation Sans",sans-serif' font-weight="bold" font-size="10.00" fill="#111" text-anchor="middle">2011</text>
<line x1="456.1" x2="456.1" y1="476.1" y2="368.3" class="eb"/>
<line x1="452.7" x2="459.5" y1="368.3" y2="368.3" class="ec"/>
<rect x="449.5" y="476.1" width="13.3" height="26.3" fill="#3b5ba8" stroke="#151515" stroke-width="0.9"/>
<text transform="translate(456.10 515.70) scale(0.854 1)" font-family='"Liberation Sans",sans-serif' font-weight="bold" font-size="10.00" fill="#111" text-anchor="middle">2012</text>
<line x1="477.4" x2="477.4" y1="463.4" y2="377.8" class="eb"/>
<line x1="474.0" x2="480.8" y1="377.8" y2="377.8" class="ec"/>
<rect x="470.8" y="463.4" width="13.3" height="39.0" fill="#3b5ba8" stroke="#151515" stroke-width="0.9"/>
<text transform="translate(477.40 515.70) scale(0.854 1)" font-family='"Liberation Sans",sans-serif' font-weight="bold" font-size="10.00" fill="#111" text-anchor="middle">2013</text>
<line x1="498.7" x2="498.7" y1="455.8" y2="343.9" class="eb"/>
<line x1="498.7" x2="498.7" y1="336.3" y2="335.9" class="eb"/>
<line x1="495.3" x2="502.1" y1="335.9" y2="335.9" class="ec"/>
<rect x="492.1" y="455.8" width="13.3" height="46.6" fill="#3b5ba8" stroke="#151515" stroke-width="0.9"/>
<text transform="translate(498.70 515.70) scale(0.854 1)" font-family='"Liberation Sans",sans-serif' font-weight="bold" font-size="10.00" fill="#111" text-anchor="middle">2014</text>
<line x1="520.0" x2="520.0" y1="419.3" y2="343.9" class="eb"/>
<line x1="520.0" x2="520.0" y1="336.3" y2="310.5" class="eb"/>
<line x1="516.6" x2="523.4" y1="310.5" y2="310.5" class="ec"/>
<rect x="513.4" y="419.3" width="13.3" height="83.1" fill="#3b5ba8" stroke="#151515" stroke-width="0.9"/>
<text transform="translate(520.00 515.70) scale(0.854 1)" font-family='"Liberation Sans",sans-serif' font-weight="bold" font-size="10.00" fill="#111" text-anchor="middle">2015</text>
<line x1="541.3" x2="541.3" y1="423.5" y2="343.9" class="eb"/>
<line x1="541.3" x2="541.3" y1="336.3" y2="315.8" class="eb"/>
<line x1="537.9" x2="544.7" y1="315.8" y2="315.8" class="ec"/>
<rect x="534.6" y="423.5" width="13.3" height="78.9" fill="#3b5ba8" stroke="#151515" stroke-width="0.9"/>
<text transform="translate(541.30 515.70) scale(0.854 1)" font-family='"Liberation Sans",sans-serif' font-weight="bold" font-size="10.00" fill="#111" text-anchor="middle">2016</text>
<line x1="562.6" x2="562.6" y1="377.8" y2="343.9" class="eb"/>
<line x1="562.6" x2="562.6" y1="336.3" y2="303.7" class="eb"/>
<line x1="559.2" x2="566.0" y1="303.7" y2="303.7" class="ec"/>
<rect x="556.0" y="377.8" width="13.3" height="124.6" fill="#3b5ba8" stroke="#151515" stroke-width="0.9"/>
<text transform="translate(562.60 515.70) scale(0.854 1)" font-family='"Liberation Sans",sans-serif' font-weight="bold" font-size="10.00" fill="#111" text-anchor="middle">2017</text>
<line x1="583.9" x2="583.9" y1="460.2" y2="343.9" class="eb"/>
<line x1="583.9" x2="583.9" y1="336.3" y2="334.2" class="eb"/>
<line x1="580.5" x2="587.3" y1="334.2" y2="334.2" class="ec"/>
<rect x="577.2" y="460.2" width="13.3" height="42.2" fill="#3b5ba8" stroke="#151515" stroke-width="0.9"/>
<text transform="translate(583.90 515.70) scale(0.854 1)" font-family='"Liberation Sans",sans-serif' font-weight="bold" font-size="10.00" fill="#111" text-anchor="middle">2018</text>
<line x1="605.2" x2="605.2" y1="483.4" y2="406.3" class="eb"/>
<line x1="601.8" x2="608.6" y1="406.3" y2="406.3" class="ec"/>
<rect x="598.6" y="483.4" width="13.3" height="19.0" fill="#3b5ba8" stroke="#151515" stroke-width="0.9"/>
<text transform="translate(605.20 515.70) scale(0.854 1)" font-family='"Liberation Sans",sans-serif' font-weight="bold" font-size="10.00" fill="#111" text-anchor="middle">2019</text>
<line x1="626.5" x2="626.5" y1="459.3" y2="343.9" class="eb"/>
<line x1="626.5" x2="626.5" y1="336.3" y2="331.2" class="eb"/>
<line x1="623.1" x2="629.9" y1="331.2" y2="331.2" class="ec"/>
<rect x="619.9" y="459.3" width="13.3" height="43.1" fill="#3b5ba8" stroke="#151515" stroke-width="0.9"/>
<text transform="translate(626.50 515.70) scale(0.854 1)" font-family='"Liberation Sans",sans-serif' font-weight="bold" font-size="10.00" fill="#111" text-anchor="middle">2020</text>
<line x1="647.8" x2="647.8" y1="350.6" y2="343.9" class="eb"/>
<line x1="647.8" x2="647.8" y1="336.3" y2="286.6" class="eb"/>
<line x1="644.4" x2="651.2" y1="286.6" y2="286.6" class="ec"/>
<rect x="641.1" y="350.6" width="13.3" height="151.8" fill="#3b5ba8" stroke="#151515" stroke-width="0.9"/>
<text transform="translate(647.80 515.70) scale(0.854 1)" font-family='"Liberation Sans",sans-serif' font-weight="bold" font-size="10.00" fill="#111" text-anchor="middle">2021</text>
<line x1="669.1" x2="669.1" y1="483.7" y2="406.3" class="eb"/>
<line x1="665.7" x2="672.5" y1="406.3" y2="406.3" class="ec"/>
<rect x="662.5" y="483.7" width="13.3" height="18.7" fill="#3b5ba8" stroke="#151515" stroke-width="0.9"/>
<text transform="translate(669.10 515.70) scale(0.854 1)" font-family='"Liberation Sans",sans-serif' font-weight="bold" font-size="10.00" fill="#111" text-anchor="middle">2022</text>
<text transform="translate(562.45 302.65) scale(0.897 1)" font-family='"Liberation Serif",serif' font-weight="normal" font-size="13.00" fill="#222" text-anchor="middle">***</text>
<text transform="translate(647.60 286.50) scale(0.897 1)" font-family='"Liberation Serif",serif' font-weight="normal" font-size="13.00" fill="#222" text-anchor="middle">***</text>
<path d="M378.2 268.7 H683.0 V502.4" fill="none" stroke="#444" stroke-width="1.3"/>
<line x1="378.0" y1="268.4" x2="378.0" y2="503" stroke="#7a7a7a" stroke-width="1.5"/>
<line x1="377.3" y1="502.2" x2="683.6" y2="502.2" stroke="#111" stroke-width="1.2"/>
<rect x="374" y="337.3" width="8" height="5.6" fill="#fff"/>
<line x1="375.4" y1="340.4" x2="380.8" y2="335.6" stroke="#333" stroke-width="0.9"/>
<line x1="375.4" y1="345.6" x2="380.8" y2="340.8" stroke="#333" stroke-width="0.9"/>
<line x1="375.8" x2="377.4" y1="502.4" y2="502.4" stroke="#222" stroke-width="0.9"/>
<text transform="translate(375.40 507.40) scale(0.830 1)" font-family='"Liberation Sans",sans-serif' font-weight="bold" font-size="13.40" fill="#111" text-anchor="end">0</text>
<line x1="375.8" x2="377.4" y1="470.7" y2="470.7" stroke="#222" stroke-width="0.9"/>
<text transform="translate(375.40 475.70) scale(0.830 1)" font-family='"Liberation Sans",sans-serif' font-weight="bold" font-size="13.40" fill="#111" text-anchor="end">10</text>
<line x1="375.8" x2="377.4" y1="439.0" y2="439.0" stroke="#222" stroke-width="0.9"/>
<text transform="translate(375.40 444.00) scale(0.830 1)" font-family='"Liberation Sans",sans-serif' font-weight="bold" font-size="13.40" fill="#111" text-anchor="end">20</text>
<line x1="375.8" x2="377.4" y1="407.3" y2="407.3" stroke="#222" stroke-width="0.9"/>
<text transform="translate(375.40 412.30) scale(0.830 1)" font-family='"Liberation Sans",sans-serif' font-weight="bold" font-size="13.40" fill="#111" text-anchor="end">30</text>
<line x1="375.8" x2="377.4" y1="375.6" y2="375.6" stroke="#222" stroke-width="0.9"/>
<text transform="translate(375.40 380.60) scale(0.830 1)" font-family='"Liberation Sans",sans-serif' font-weight="bold" font-size="13.40" fill="#111" text-anchor="end">40</text>
<line x1="375.8" x2="377.4" y1="343.9" y2="343.9" stroke="#222" stroke-width="0.9"/>
<text transform="translate(375.40 348.90) scale(0.830 1)" font-family='"Liberation Sans",sans-serif' font-weight="bold" font-size="13.40" fill="#111" text-anchor="end">50</text>
<line x1="375.8" x2="377.4" y1="319.4" y2="319.4" stroke="#222" stroke-width="0.9"/>
<text transform="translate(375.40 324.45) scale(0.830 1)" font-family='"Liberation Sans",sans-serif' font-weight="bold" font-size="13.40" fill="#111" text-anchor="end">100</text>
<line x1="375.8" x2="377.4" y1="285.9" y2="285.9" stroke="#222" stroke-width="0.9"/>
<text transform="translate(375.40 290.95) scale(0.830 1)" font-family='"Liberation Sans",sans-serif' font-weight="bold" font-size="13.40" fill="#111" text-anchor="end">200</text>
<text transform="translate(351.6 381.2) rotate(-90) scale(1.049 1)" font-family="Liberation Sans, sans-serif" font-weight="bold" font-size="12.4" fill="#111" text-anchor="middle">Mean AFB<tspan font-size="8.2" dy="2.6">1</tspan><tspan dy="-2.6"> (μg·kg</tspan><tspan font-size="8.2" dy="-4.6">-1</tspan><tspan dy="4.6">)</tspan></text>
<text transform="translate(384.4 279.7) scale(0.825 1)" font-family="Liberation Serif, serif" font-weight="bold" font-size="10.6" fill="#111">Provincial Mean AFB<tspan font-size="6.6" dy="2.2">1</tspan><tspan dy="-2.2"> density (μg·kg</tspan><tspan font-size="6.6" dy="-4.2">-1</tspan><tspan dy="4.2">)</tspan></text>
<text transform="translate(384.4 293.7) scale(0.830 1)" font-family="Liberation Serif, serif" font-weight="bold" font-size="10.6" fill="#111">Mean: 13.88 μg·kg<tspan font-size="6.6" dy="-4.2">-1</tspan></text>
<rect x="400.4" y="303.3" width="6.4" height="50.0" fill="#3b5ba8" stroke="#2a3550" stroke-width="0.5"/>
<rect x="408.1" y="328.3" width="6.4" height="25.0" fill="#3b5ba8" stroke="#2a3550" stroke-width="0.5"/>
<rect x="415.8" y="340.8" width="6.4" height="12.5" fill="#3b5ba8" stroke="#2a3550" stroke-width="0.5"/>
<rect x="423.6" y="315.8" width="6.4" height="37.5" fill="#3b5ba8" stroke="#2a3550" stroke-width="0.5"/>
<rect x="431.3" y="340.8" width="6.4" height="12.5" fill="#3b5ba8" stroke="#2a3550" stroke-width="0.5"/>
<rect x="439.0" y="340.8" width="6.4" height="12.5" fill="#3b5ba8" stroke="#2a3550" stroke-width="0.5"/>
<rect x="446.7" y="340.8" width="6.4" height="12.5" fill="#3b5ba8" stroke="#2a3550" stroke-width="0.5"/>
<rect x="462.2" y="340.8" width="6.4" height="12.5" fill="#3b5ba8" stroke="#2a3550" stroke-width="0.5"/>
<line x1="426.1" x2="426.1" y1="296.8" y2="353.3" stroke="#e83030" stroke-width="0.9"/>
<line x1="398.5" x2="398.5" y1="296.6" y2="353.3" stroke="#9a9a9a" stroke-width="0.9"/>
<line x1="398.0" x2="470.8" y1="353.3" y2="353.3" stroke="#444" stroke-width="0.9"/>
<text transform="translate(397.30 356.30) scale(0.777 1)" font-family='"Liberation Sans",sans-serif' font-weight="bold" font-size="8.80" fill="#111" text-anchor="end">0</text>
<text transform="translate(397.30 343.85) scale(0.777 1)" font-family='"Liberation Sans",sans-serif' font-weight="bold" font-size="8.80" fill="#111" text-anchor="end">1</text>
<text transform="translate(397.30 331.40) scale(0.777 1)" font-family='"Liberation Sans",sans-serif' font-weight="bold" font-size="8.80" fill="#111" text-anchor="end">2</text>
<text transform="translate(397.30 318.95) scale(0.777 1)" font-family='"Liberation Sans",sans-serif' font-weight="bold" font-size="8.80" fill="#111" text-anchor="end">3</text>
<text transform="translate(397.30 306.50) scale(0.777 1)" font-family='"Liberation Sans",sans-serif' font-weight="bold" font-size="8.80" fill="#111" text-anchor="end">4</text>
<text transform="translate(404.10 363.50) scale(0.777 1)" font-family='"Liberation Sans",sans-serif' font-weight="bold" font-size="8.80" fill="#111" text-anchor="middle">0</text>
<text transform="translate(419.30 363.50) scale(0.777 1)" font-family='"Liberation Sans",sans-serif' font-weight="bold" font-size="8.80" fill="#111" text-anchor="middle">10</text>
<text transform="translate(434.50 363.50) scale(0.777 1)" font-family='"Liberation Sans",sans-serif' font-weight="bold" font-size="8.80" fill="#111" text-anchor="middle">20</text>
<text transform="translate(449.70 363.50) scale(0.777 1)" font-family='"Liberation Sans",sans-serif' font-weight="bold" font-size="8.80" fill="#111" text-anchor="middle">30</text>
<text transform="translate(464.90 363.50) scale(0.777 1)" font-family='"Liberation Sans",sans-serif' font-weight="bold" font-size="8.80" fill="#111" text-anchor="middle">40</text>
<text transform="translate(0.40 15.90) scale(0.880 1)" font-family='"Liberation Sans",sans-serif' font-weight="bold" font-size="20.50" fill="#111" text-anchor="start">a</text>
<text transform="translate(347.50 14.90) scale(1.000 1)" font-family='"Liberation Sans",sans-serif' font-weight="normal" font-size="18.80" fill="#111" text-anchor="start" stroke="#111" stroke-width="0.35">b</text>
<text transform="translate(0.60 271.10) scale(0.880 1)" font-family='"Liberation Sans",sans-serif' font-weight="bold" font-size="20.00" fill="#111" text-anchor="start">c</text>
<text transform="translate(348.80 270.20) scale(1.000 1)" font-family='"Liberation Sans",sans-serif' font-weight="normal" font-size="18.50" fill="#111" text-anchor="start" stroke="#111" stroke-width="0.35">d</text>
</svg></body></html>
